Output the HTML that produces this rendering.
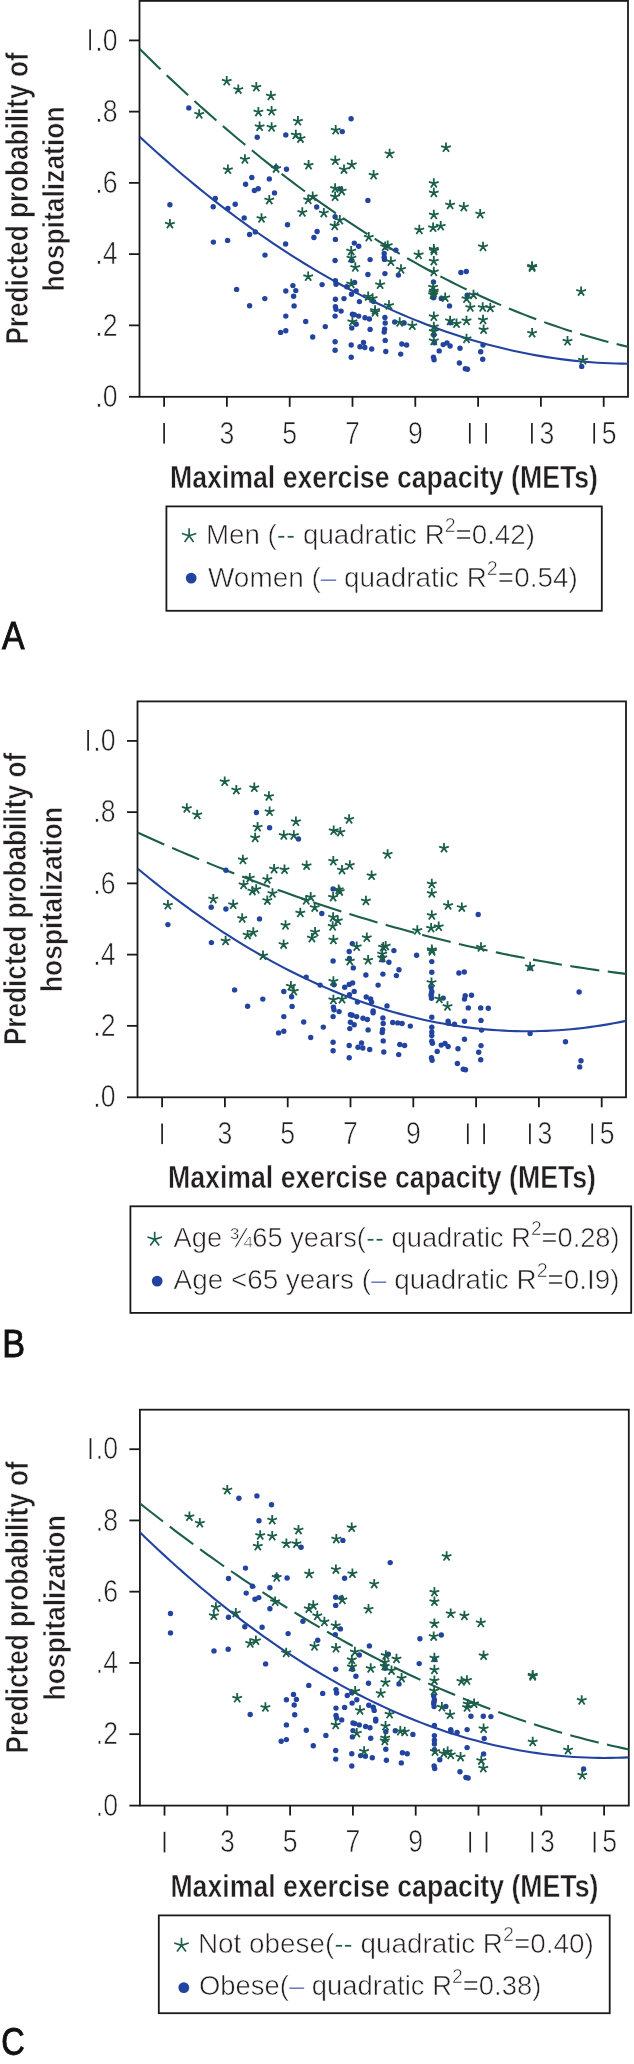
<!DOCTYPE html>
<html><head><meta charset="utf-8"><style>
html,body{margin:0;padding:0;background:#fff;overflow:hidden;}
svg{display:block;will-change:transform;font-family:"Liberation Sans",sans-serif;}
.lt{stroke:#fff;stroke-width:0.6px;paint-order:normal;}
.bt{stroke:#fff;stroke-width:0.45px;paint-order:normal;}
.yt{stroke:#fff;stroke-width:0.6px;paint-order:normal;}
.lb{stroke:#111;stroke-width:0.9px;}
</style></head><body>
<svg width="634" height="2064" viewBox="0 0 634 2064">
<defs>
<clipPath id="clipA"><rect x="139.50" y="0.90" width="488.50" height="396.00"/></clipPath>
<clipPath id="clipB"><rect x="137.50" y="701.40" width="488.50" height="396.00"/></clipPath>
<clipPath id="clipC"><rect x="139.90" y="1409.70" width="488.90" height="396.00"/></clipPath>
</defs>
<rect width="634" height="2064" fill="#fff"/>
<rect x="139.50" y="0.90" width="488.50" height="395.90" fill="none" stroke="#1a1a1a" stroke-width="1.80"/>
<line x1="129.00" y1="40.40" x2="139.50" y2="40.40" stroke="#1a1a1a" stroke-width="1.80"/>
<line x1="129.00" y1="111.64" x2="139.50" y2="111.64" stroke="#1a1a1a" stroke-width="1.80"/>
<line x1="129.00" y1="182.88" x2="139.50" y2="182.88" stroke="#1a1a1a" stroke-width="1.80"/>
<line x1="129.00" y1="254.12" x2="139.50" y2="254.12" stroke="#1a1a1a" stroke-width="1.80"/>
<line x1="129.00" y1="325.36" x2="139.50" y2="325.36" stroke="#1a1a1a" stroke-width="1.80"/>
<line x1="129.00" y1="396.80" x2="139.50" y2="396.80" stroke="#1a1a1a" stroke-width="1.80"/>
<line x1="164.10" y1="396.80" x2="164.10" y2="406.80" stroke="#1a1a1a" stroke-width="1.80"/>
<line x1="226.90" y1="396.80" x2="226.90" y2="406.80" stroke="#1a1a1a" stroke-width="1.80"/>
<line x1="289.70" y1="396.80" x2="289.70" y2="406.80" stroke="#1a1a1a" stroke-width="1.80"/>
<line x1="352.50" y1="396.80" x2="352.50" y2="406.80" stroke="#1a1a1a" stroke-width="1.80"/>
<line x1="415.30" y1="396.80" x2="415.30" y2="406.80" stroke="#1a1a1a" stroke-width="1.80"/>
<line x1="478.10" y1="396.80" x2="478.10" y2="406.80" stroke="#1a1a1a" stroke-width="1.80"/>
<line x1="540.90" y1="396.80" x2="540.90" y2="406.80" stroke="#1a1a1a" stroke-width="1.80"/>
<line x1="603.70" y1="396.80" x2="603.70" y2="406.80" stroke="#1a1a1a" stroke-width="1.80"/>
<g transform="translate(117.60 50.60) scale(0.860 1)"><text x="0.00" y="0.00" font-size="31.00" font-weight="normal" text-anchor="end" fill="#231f20" class="lt">.0</text></g>
<rect x="89.25" y="29.40" width="1.70" height="20.80" fill="#231f20"/>
<g transform="translate(117.60 121.84) scale(0.860 1)"><text x="0.00" y="0.00" font-size="31.00" font-weight="normal" text-anchor="end" fill="#231f20" class="lt">.8</text></g>
<g transform="translate(117.60 193.08) scale(0.860 1)"><text x="0.00" y="0.00" font-size="31.00" font-weight="normal" text-anchor="end" fill="#231f20" class="lt">.6</text></g>
<g transform="translate(117.60 264.32) scale(0.860 1)"><text x="0.00" y="0.00" font-size="31.00" font-weight="normal" text-anchor="end" fill="#231f20" class="lt">.4</text></g>
<g transform="translate(117.60 335.56) scale(0.860 1)"><text x="0.00" y="0.00" font-size="31.00" font-weight="normal" text-anchor="end" fill="#231f20" class="lt">.2</text></g>
<g transform="translate(117.60 406.80) scale(0.860 1)"><text x="0.00" y="0.00" font-size="31.00" font-weight="normal" text-anchor="end" fill="#231f20" class="lt">.0</text></g>
<rect x="163.25" y="423.00" width="1.70" height="20.60" fill="#231f20"/>
<g transform="translate(226.90 443.60) scale(0.860 1)"><text x="0.00" y="0.00" font-size="31.00" font-weight="normal" text-anchor="middle" fill="#231f20" class="lt">3</text></g>
<g transform="translate(289.70 443.60) scale(0.860 1)"><text x="0.00" y="0.00" font-size="31.00" font-weight="normal" text-anchor="middle" fill="#231f20" class="lt">5</text></g>
<g transform="translate(352.50 443.60) scale(0.860 1)"><text x="0.00" y="0.00" font-size="31.00" font-weight="normal" text-anchor="middle" fill="#231f20" class="lt">7</text></g>
<g transform="translate(415.30 443.60) scale(0.860 1)"><text x="0.00" y="0.00" font-size="31.00" font-weight="normal" text-anchor="middle" fill="#231f20" class="lt">9</text></g>
<rect x="468.95" y="423.00" width="1.70" height="20.60" fill="#231f20"/>
<rect x="485.25" y="423.00" width="1.70" height="20.60" fill="#231f20"/>
<rect x="531.05" y="423.00" width="1.70" height="20.60" fill="#231f20"/>
<g transform="translate(546.90 443.60) scale(0.860 1)"><text x="0.00" y="0.00" font-size="31.00" font-weight="normal" text-anchor="middle" fill="#231f20" class="lt">3</text></g>
<rect x="593.35" y="423.00" width="1.70" height="20.60" fill="#231f20"/>
<g transform="translate(609.20 443.60) scale(0.860 1)"><text x="0.00" y="0.00" font-size="31.00" font-weight="normal" text-anchor="middle" fill="#231f20" class="lt">5</text></g>
<text x="170.00" y="487.70" font-size="31.50" font-weight="bold" text-anchor="start" fill="#231f20" textLength="428.0" lengthAdjust="spacingAndGlyphs" class="bt">Maximal exercise capacity (METs)</text>
<g transform="translate(27.70 344.60) rotate(-90)">
<text x="0.00" y="0.00" font-size="30.50" font-weight="bold" text-anchor="start" fill="#231f20" textLength="292.2" lengthAdjust="spacingAndGlyphs" class="yt">Predicted probability of</text>
</g>
<g transform="translate(64.30 291.60) rotate(-90)">
<text x="0.00" y="0.00" font-size="29.50" font-weight="bold" text-anchor="start" fill="#231f20" textLength="185.2" lengthAdjust="spacingAndGlyphs" class="yt">hospitalization</text>
</g>
<g clip-path="url(#clipA)">
<polyline points="139.50,48.85 145.61,54.87 151.71,60.83 157.82,66.74 163.93,72.58 170.03,78.37 176.14,84.10 182.24,89.77 188.35,95.38 194.46,100.94 200.56,106.44 206.67,111.87 212.78,117.26 218.88,122.58 224.99,127.84 231.09,133.05 237.20,138.20 243.31,143.29 249.41,148.32 255.52,153.29 261.62,158.21 267.73,163.07 273.84,167.87 279.94,172.61 286.05,177.29 292.16,181.92 298.26,186.48 304.37,190.99 310.48,195.44 316.58,199.83 322.69,204.17 328.79,208.45 334.90,212.66 341.01,216.82 347.11,220.93 353.22,224.97 359.32,228.96 365.43,232.88 371.54,236.75 377.64,240.57 383.75,244.32 389.86,248.01 395.96,251.65 402.07,255.23 408.18,258.75 414.28,262.21 420.39,265.62 426.49,268.96 432.60,272.25 438.71,275.48 444.81,278.66 450.92,281.77 457.02,284.83 463.13,287.82 469.24,290.76 475.34,293.64 481.45,296.47 487.56,299.23 493.66,301.94 499.77,304.59 505.88,307.18 511.98,309.71 518.09,312.19 524.19,314.61 530.30,316.96 536.41,319.26 542.51,321.51 548.62,323.69 554.73,325.82 560.83,327.88 566.94,329.89 573.04,331.85 579.15,333.74 585.26,335.57 591.36,337.35 597.47,339.07 603.58,340.73 609.68,342.34 615.79,343.88 621.89,345.37 628.00,346.80" fill="none" stroke="#1b5e4a" stroke-width="2.10" stroke-dasharray="29.36 8.5"/>
<polyline points="139.50,136.64 145.61,142.25 151.71,147.79 157.82,153.26 163.93,158.66 170.03,163.99 176.14,169.25 182.24,174.44 188.35,179.56 194.46,184.61 200.56,189.59 206.67,194.50 212.78,199.33 218.88,204.10 224.99,208.80 231.09,213.43 237.20,217.99 243.31,222.47 249.41,226.89 255.52,231.24 261.62,235.51 267.73,239.72 273.84,243.86 279.94,247.92 286.05,251.92 292.16,255.85 298.26,259.70 304.37,263.49 310.48,267.20 316.58,270.85 322.69,274.42 328.79,277.93 334.90,281.36 341.01,284.73 347.11,288.02 353.22,291.25 359.32,294.40 365.43,297.49 371.54,300.50 377.64,303.44 383.75,306.32 389.86,309.12 395.96,311.85 402.07,314.52 408.18,317.11 414.28,319.63 420.39,322.09 426.49,324.47 432.60,326.78 438.71,329.02 444.81,331.19 450.92,333.30 457.02,335.33 463.13,337.29 469.24,339.18 475.34,341.00 481.45,342.75 487.56,344.43 493.66,346.04 499.77,347.58 505.88,349.06 511.98,350.46 518.09,351.79 524.19,353.05 530.30,354.23 536.41,355.35 542.51,356.40 548.62,357.38 554.73,358.29 560.83,359.13 566.94,359.90 573.04,360.60 579.15,361.23 585.26,361.78 591.36,362.27 597.47,362.69 603.58,363.04 609.68,363.31 615.79,363.52 621.89,363.66 628.00,363.73" fill="none" stroke="#2244a0" stroke-width="2.10"/>
</g>
<circle cx="188.80" cy="107.90" r="2.70" fill="#2244a0"/>
<circle cx="257.20" cy="137.30" r="2.70" fill="#2244a0"/>
<circle cx="285.80" cy="134.90" r="2.70" fill="#2244a0"/>
<circle cx="286.50" cy="169.20" r="2.70" fill="#2244a0"/>
<circle cx="251.80" cy="177.50" r="2.70" fill="#2244a0"/>
<circle cx="269.30" cy="178.90" r="2.70" fill="#2244a0"/>
<circle cx="245.60" cy="184.30" r="2.70" fill="#2244a0"/>
<circle cx="254.40" cy="190.50" r="2.70" fill="#2244a0"/>
<circle cx="258.20" cy="188.80" r="2.70" fill="#2244a0"/>
<circle cx="274.50" cy="192.90" r="2.70" fill="#2244a0"/>
<circle cx="169.90" cy="204.70" r="2.70" fill="#2244a0"/>
<circle cx="215.30" cy="198.50" r="2.70" fill="#2244a0"/>
<circle cx="213.20" cy="206.80" r="2.70" fill="#2244a0"/>
<circle cx="227.90" cy="208.50" r="2.70" fill="#2244a0"/>
<circle cx="235.20" cy="204.20" r="2.70" fill="#2244a0"/>
<circle cx="244.20" cy="217.90" r="2.70" fill="#2244a0"/>
<circle cx="287.50" cy="224.80" r="2.70" fill="#2244a0"/>
<circle cx="249.60" cy="234.50" r="2.70" fill="#2244a0"/>
<circle cx="255.30" cy="231.90" r="2.70" fill="#2244a0"/>
<circle cx="213.40" cy="242.10" r="2.70" fill="#2244a0"/>
<circle cx="227.60" cy="240.40" r="2.70" fill="#2244a0"/>
<circle cx="285.60" cy="244.00" r="2.70" fill="#2244a0"/>
<circle cx="265.00" cy="255.10" r="2.70" fill="#2244a0"/>
<circle cx="236.60" cy="289.40" r="2.70" fill="#2244a0"/>
<circle cx="249.60" cy="305.70" r="2.70" fill="#2244a0"/>
<circle cx="264.80" cy="298.60" r="2.70" fill="#2244a0"/>
<circle cx="285.80" cy="291.00" r="2.70" fill="#2244a0"/>
<circle cx="292.90" cy="285.60" r="2.70" fill="#2244a0"/>
<circle cx="295.80" cy="290.60" r="2.70" fill="#2244a0"/>
<circle cx="293.60" cy="296.20" r="2.70" fill="#2244a0"/>
<circle cx="294.10" cy="305.90" r="2.70" fill="#2244a0"/>
<circle cx="285.80" cy="316.10" r="2.70" fill="#2244a0"/>
<circle cx="285.80" cy="330.80" r="2.70" fill="#2244a0"/>
<circle cx="280.60" cy="332.40" r="2.70" fill="#2244a0"/>
<circle cx="342.30" cy="131.60" r="2.70" fill="#2244a0"/>
<circle cx="351.10" cy="118.80" r="2.70" fill="#2244a0"/>
<circle cx="340.70" cy="189.10" r="2.70" fill="#2244a0"/>
<circle cx="316.70" cy="207.00" r="2.70" fill="#2244a0"/>
<circle cx="335.10" cy="216.80" r="2.70" fill="#2244a0"/>
<circle cx="367.90" cy="200.40" r="2.70" fill="#2244a0"/>
<circle cx="317.10" cy="231.50" r="2.70" fill="#2244a0"/>
<circle cx="313.90" cy="237.50" r="2.70" fill="#2244a0"/>
<circle cx="335.40" cy="239.40" r="2.70" fill="#2244a0"/>
<circle cx="354.30" cy="243.10" r="2.70" fill="#2244a0"/>
<circle cx="358.70" cy="246.20" r="2.70" fill="#2244a0"/>
<circle cx="351.80" cy="260.50" r="2.70" fill="#2244a0"/>
<circle cx="335.10" cy="260.50" r="2.70" fill="#2244a0"/>
<circle cx="370.10" cy="259.60" r="2.70" fill="#2244a0"/>
<circle cx="395.90" cy="250.10" r="2.70" fill="#2244a0"/>
<circle cx="384.20" cy="253.50" r="2.70" fill="#2244a0"/>
<circle cx="384.20" cy="257.30" r="2.70" fill="#2244a0"/>
<circle cx="367.90" cy="274.50" r="2.70" fill="#2244a0"/>
<circle cx="322.10" cy="284.60" r="2.70" fill="#2244a0"/>
<circle cx="335.40" cy="280.80" r="2.70" fill="#2244a0"/>
<circle cx="336.00" cy="284.20" r="2.70" fill="#2244a0"/>
<circle cx="354.60" cy="282.40" r="2.70" fill="#2244a0"/>
<circle cx="346.70" cy="286.70" r="2.70" fill="#2244a0"/>
<circle cx="356.20" cy="290.90" r="2.70" fill="#2244a0"/>
<circle cx="351.50" cy="294.30" r="2.70" fill="#2244a0"/>
<circle cx="335.40" cy="299.30" r="2.70" fill="#2244a0"/>
<circle cx="344.00" cy="298.60" r="2.70" fill="#2244a0"/>
<circle cx="359.40" cy="301.60" r="2.70" fill="#2244a0"/>
<circle cx="335.40" cy="306.60" r="2.70" fill="#2244a0"/>
<circle cx="336.00" cy="309.20" r="2.70" fill="#2244a0"/>
<circle cx="341.10" cy="311.10" r="2.70" fill="#2244a0"/>
<circle cx="335.10" cy="316.10" r="2.70" fill="#2244a0"/>
<circle cx="352.40" cy="314.20" r="2.70" fill="#2244a0"/>
<circle cx="354.30" cy="314.80" r="2.70" fill="#2244a0"/>
<circle cx="358.70" cy="316.10" r="2.70" fill="#2244a0"/>
<circle cx="365.00" cy="317.70" r="2.70" fill="#2244a0"/>
<circle cx="369.40" cy="319.00" r="2.70" fill="#2244a0"/>
<circle cx="356.20" cy="324.30" r="2.70" fill="#2244a0"/>
<circle cx="351.80" cy="328.10" r="2.70" fill="#2244a0"/>
<circle cx="305.70" cy="321.50" r="2.70" fill="#2244a0"/>
<circle cx="325.30" cy="326.60" r="2.70" fill="#2244a0"/>
<circle cx="370.10" cy="329.40" r="2.70" fill="#2244a0"/>
<circle cx="384.90" cy="273.60" r="2.70" fill="#2244a0"/>
<circle cx="398.40" cy="275.10" r="2.70" fill="#2244a0"/>
<circle cx="433.50" cy="282.00" r="2.70" fill="#2244a0"/>
<circle cx="433.50" cy="297.80" r="2.70" fill="#2244a0"/>
<circle cx="441.30" cy="298.40" r="2.70" fill="#2244a0"/>
<circle cx="373.60" cy="301.60" r="2.70" fill="#2244a0"/>
<circle cx="384.90" cy="317.40" r="2.70" fill="#2244a0"/>
<circle cx="385.20" cy="323.00" r="2.70" fill="#2244a0"/>
<circle cx="394.70" cy="322.00" r="2.70" fill="#2244a0"/>
<circle cx="404.10" cy="323.00" r="2.70" fill="#2244a0"/>
<circle cx="312.70" cy="337.00" r="2.70" fill="#2244a0"/>
<circle cx="335.10" cy="341.70" r="2.70" fill="#2244a0"/>
<circle cx="335.10" cy="350.30" r="2.70" fill="#2244a0"/>
<circle cx="351.20" cy="345.00" r="2.70" fill="#2244a0"/>
<circle cx="351.20" cy="357.20" r="2.70" fill="#2244a0"/>
<circle cx="363.50" cy="342.50" r="2.70" fill="#2244a0"/>
<circle cx="360.00" cy="346.80" r="2.70" fill="#2244a0"/>
<circle cx="364.80" cy="347.50" r="2.70" fill="#2244a0"/>
<circle cx="371.70" cy="349.00" r="2.70" fill="#2244a0"/>
<circle cx="384.60" cy="329.10" r="2.70" fill="#2244a0"/>
<circle cx="384.20" cy="332.00" r="2.70" fill="#2244a0"/>
<circle cx="385.20" cy="340.40" r="2.70" fill="#2244a0"/>
<circle cx="385.80" cy="351.50" r="2.70" fill="#2244a0"/>
<circle cx="401.80" cy="344.00" r="2.70" fill="#2244a0"/>
<circle cx="406.60" cy="345.00" r="2.70" fill="#2244a0"/>
<circle cx="400.70" cy="354.10" r="2.70" fill="#2244a0"/>
<circle cx="433.80" cy="335.10" r="2.70" fill="#2244a0"/>
<circle cx="434.40" cy="342.70" r="2.70" fill="#2244a0"/>
<circle cx="443.20" cy="344.60" r="2.70" fill="#2244a0"/>
<circle cx="439.20" cy="350.90" r="2.70" fill="#2244a0"/>
<circle cx="433.50" cy="357.20" r="2.70" fill="#2244a0"/>
<circle cx="434.10" cy="359.70" r="2.70" fill="#2244a0"/>
<circle cx="460.90" cy="272.50" r="2.70" fill="#2244a0"/>
<circle cx="466.30" cy="271.50" r="2.70" fill="#2244a0"/>
<circle cx="449.50" cy="305.90" r="2.70" fill="#2244a0"/>
<circle cx="467.20" cy="295.20" r="2.70" fill="#2244a0"/>
<circle cx="450.40" cy="322.70" r="2.70" fill="#2244a0"/>
<circle cx="447.00" cy="342.90" r="2.70" fill="#2244a0"/>
<circle cx="450.10" cy="346.00" r="2.70" fill="#2244a0"/>
<circle cx="460.00" cy="348.20" r="2.70" fill="#2244a0"/>
<circle cx="483.00" cy="345.10" r="2.70" fill="#2244a0"/>
<circle cx="480.70" cy="351.70" r="2.70" fill="#2244a0"/>
<circle cx="482.70" cy="359.30" r="2.70" fill="#2244a0"/>
<circle cx="459.40" cy="363.00" r="2.70" fill="#2244a0"/>
<circle cx="465.30" cy="368.70" r="2.70" fill="#2244a0"/>
<circle cx="467.50" cy="369.20" r="2.70" fill="#2244a0"/>
<circle cx="581.70" cy="366.40" r="2.70" fill="#2244a0"/>
<circle cx="384.50" cy="259.40" r="2.70" fill="#2244a0"/>
<circle cx="276.10" cy="167.30" r="2.70" fill="#2244a0"/>
<path d="M199.20 114.30L199.20 109.20M199.20 114.30L194.35 112.72M199.20 114.30L196.20 118.43M199.20 114.30L202.20 118.43M199.20 114.30L204.05 112.72" stroke="#1b5e4a" stroke-width="1.80" fill="none"/>
<path d="M226.70 81.20L226.70 76.10M226.70 81.20L221.85 79.62M226.70 81.20L223.70 85.33M226.70 81.20L229.70 85.33M226.70 81.20L231.55 79.62" stroke="#1b5e4a" stroke-width="1.80" fill="none"/>
<path d="M238.30 89.50L238.30 84.40M238.30 89.50L233.45 87.92M238.30 89.50L235.30 93.63M238.30 89.50L241.30 93.63M238.30 89.50L243.15 87.92" stroke="#1b5e4a" stroke-width="1.80" fill="none"/>
<path d="M256.30 87.10L256.30 82.00M256.30 87.10L251.45 85.52M256.30 87.10L253.30 91.23M256.30 87.10L259.30 91.23M256.30 87.10L261.15 85.52" stroke="#1b5e4a" stroke-width="1.80" fill="none"/>
<path d="M270.90 95.90L270.90 90.80M270.90 95.90L266.05 94.32M270.90 95.90L267.90 100.03M270.90 95.90L273.90 100.03M270.90 95.90L275.75 94.32" stroke="#1b5e4a" stroke-width="1.80" fill="none"/>
<path d="M258.40 112.00L258.40 106.90M258.40 112.00L253.55 110.42M258.40 112.00L255.40 116.13M258.40 112.00L261.40 116.13M258.40 112.00L263.25 110.42" stroke="#1b5e4a" stroke-width="1.80" fill="none"/>
<path d="M271.60 111.20L271.60 106.10M271.60 111.20L266.75 109.62M271.60 111.20L268.60 115.33M271.60 111.20L274.60 115.33M271.60 111.20L276.45 109.62" stroke="#1b5e4a" stroke-width="1.80" fill="none"/>
<path d="M259.60 126.60L259.60 121.50M259.60 126.60L254.75 125.02M259.60 126.60L256.60 130.73M259.60 126.60L262.60 130.73M259.60 126.60L264.45 125.02" stroke="#1b5e4a" stroke-width="1.80" fill="none"/>
<path d="M271.60 127.30L271.60 122.20M271.60 127.30L266.75 125.72M271.60 127.30L268.60 131.43M271.60 127.30L274.60 131.43M271.60 127.30L276.45 125.72" stroke="#1b5e4a" stroke-width="1.80" fill="none"/>
<path d="M297.90 121.20L297.90 116.10M297.90 121.20L293.05 119.62M297.90 121.20L294.90 125.33M297.90 121.20L300.90 125.33M297.90 121.20L302.75 119.62" stroke="#1b5e4a" stroke-width="1.80" fill="none"/>
<path d="M295.80 134.90L295.80 129.80M295.80 134.90L290.95 133.32M295.80 134.90L292.80 139.03M295.80 134.90L298.80 139.03M295.80 134.90L300.65 133.32" stroke="#1b5e4a" stroke-width="1.80" fill="none"/>
<path d="M300.50 138.50L300.50 133.40M300.50 138.50L295.65 136.92M300.50 138.50L297.50 142.63M300.50 138.50L303.50 142.63M300.50 138.50L305.35 136.92" stroke="#1b5e4a" stroke-width="1.80" fill="none"/>
<path d="M244.90 159.30L244.90 154.20M244.90 159.30L240.05 157.72M244.90 159.30L241.90 163.43M244.90 159.30L247.90 163.43M244.90 159.30L249.75 157.72" stroke="#1b5e4a" stroke-width="1.80" fill="none"/>
<path d="M227.90 169.70L227.90 164.60M227.90 169.70L223.05 168.12M227.90 169.70L224.90 173.83M227.90 169.70L230.90 173.83M227.90 169.70L232.75 168.12" stroke="#1b5e4a" stroke-width="1.80" fill="none"/>
<path d="M276.10 168.50L276.10 163.40M276.10 168.50L271.25 166.92M276.10 168.50L273.10 172.63M276.10 168.50L279.10 172.63M276.10 168.50L280.95 166.92" stroke="#1b5e4a" stroke-width="1.80" fill="none"/>
<path d="M269.30 200.00L269.30 194.90M269.30 200.00L264.45 198.42M269.30 200.00L266.30 204.13M269.30 200.00L272.30 204.13M269.30 200.00L274.15 198.42" stroke="#1b5e4a" stroke-width="1.80" fill="none"/>
<path d="M169.90 224.10L169.90 219.00M169.90 224.10L165.05 222.52M169.90 224.10L166.90 228.23M169.90 224.10L172.90 228.23M169.90 224.10L174.75 222.52" stroke="#1b5e4a" stroke-width="1.80" fill="none"/>
<path d="M261.50 218.40L261.50 213.30M261.50 218.40L256.65 216.82M261.50 218.40L258.50 222.53M261.50 218.40L264.50 222.53M261.50 218.40L266.35 216.82" stroke="#1b5e4a" stroke-width="1.80" fill="none"/>
<path d="M335.70 130.20L335.70 125.10M335.70 130.20L330.85 128.62M335.70 130.20L332.70 134.33M335.70 130.20L338.70 134.33M335.70 130.20L340.55 128.62" stroke="#1b5e4a" stroke-width="1.80" fill="none"/>
<path d="M389.60 153.80L389.60 148.70M389.60 153.80L384.75 152.22M389.60 153.80L386.60 157.93M389.60 153.80L392.60 157.93M389.60 153.80L394.45 152.22" stroke="#1b5e4a" stroke-width="1.80" fill="none"/>
<path d="M308.60 165.10L308.60 160.00M308.60 165.10L303.75 163.52M308.60 165.10L305.60 169.23M308.60 165.10L311.60 169.23M308.60 165.10L313.45 163.52" stroke="#1b5e4a" stroke-width="1.80" fill="none"/>
<path d="M335.30 160.70L335.30 155.60M335.30 160.70L330.45 159.12M335.30 160.70L332.30 164.83M335.30 160.70L338.30 164.83M335.30 160.70L340.15 159.12" stroke="#1b5e4a" stroke-width="1.80" fill="none"/>
<path d="M351.80 164.80L351.80 159.70M351.80 164.80L346.95 163.22M351.80 164.80L348.80 168.93M351.80 164.80L354.80 168.93M351.80 164.80L356.65 163.22" stroke="#1b5e4a" stroke-width="1.80" fill="none"/>
<path d="M344.00 169.50L344.00 164.40M344.00 169.50L339.15 167.92M344.00 169.50L341.00 173.63M344.00 169.50L347.00 173.63M344.00 169.50L348.85 167.92" stroke="#1b5e4a" stroke-width="1.80" fill="none"/>
<path d="M373.60 175.20L373.60 170.10M373.60 175.20L368.75 173.62M373.60 175.20L370.60 179.33M373.60 175.20L376.60 179.33M373.60 175.20L378.45 173.62" stroke="#1b5e4a" stroke-width="1.80" fill="none"/>
<path d="M335.10 188.40L335.10 183.30M335.10 188.40L330.25 186.82M335.10 188.40L332.10 192.53M335.10 188.40L338.10 192.53M335.10 188.40L339.95 186.82" stroke="#1b5e4a" stroke-width="1.80" fill="none"/>
<path d="M335.10 196.60L335.10 191.50M335.10 196.60L330.25 195.02M335.10 196.60L332.10 200.73M335.10 196.60L338.10 200.73M335.10 196.60L339.95 195.02" stroke="#1b5e4a" stroke-width="1.80" fill="none"/>
<path d="M341.70 191.00L341.70 185.90M341.70 191.00L336.85 189.42M341.70 191.00L338.70 195.13M341.70 191.00L344.70 195.13M341.70 191.00L346.55 189.42" stroke="#1b5e4a" stroke-width="1.80" fill="none"/>
<path d="M312.70 196.60L312.70 191.50M312.70 196.60L307.85 195.02M312.70 196.60L309.70 200.73M312.70 196.60L315.70 200.73M312.70 196.60L317.55 195.02" stroke="#1b5e4a" stroke-width="1.80" fill="none"/>
<path d="M308.20 199.80L308.20 194.70M308.20 199.80L303.35 198.22M308.20 199.80L305.20 203.93M308.20 199.80L311.20 203.93M308.20 199.80L313.05 198.22" stroke="#1b5e4a" stroke-width="1.80" fill="none"/>
<path d="M302.30 212.40L302.30 207.30M302.30 212.40L297.45 210.82M302.30 212.40L299.30 216.53M302.30 212.40L305.30 216.53M302.30 212.40L307.15 210.82" stroke="#1b5e4a" stroke-width="1.80" fill="none"/>
<path d="M323.80 213.00L323.80 207.90M323.80 213.00L318.95 211.42M323.80 213.00L320.80 217.13M323.80 213.00L326.80 217.13M323.80 213.00L328.65 211.42" stroke="#1b5e4a" stroke-width="1.80" fill="none"/>
<path d="M339.80 220.10L339.80 215.00M339.80 220.10L334.95 218.52M339.80 220.10L336.80 224.23M339.80 220.10L342.80 224.23M339.80 220.10L344.65 218.52" stroke="#1b5e4a" stroke-width="1.80" fill="none"/>
<path d="M334.70 225.80L334.70 220.70M334.70 225.80L329.85 224.22M334.70 225.80L331.70 229.93M334.70 225.80L337.70 229.93M334.70 225.80L339.55 224.22" stroke="#1b5e4a" stroke-width="1.80" fill="none"/>
<path d="M368.80 237.10L368.80 232.00M368.80 237.10L363.95 235.52M368.80 237.10L365.80 241.23M368.80 237.10L371.80 241.23M368.80 237.10L373.65 235.52" stroke="#1b5e4a" stroke-width="1.80" fill="none"/>
<path d="M351.20 251.00L351.20 245.90M351.20 251.00L346.35 249.42M351.20 251.00L348.20 255.13M351.20 251.00L354.20 255.13M351.20 251.00L356.05 249.42" stroke="#1b5e4a" stroke-width="1.80" fill="none"/>
<path d="M351.40 258.00L351.40 252.90M351.40 258.00L346.55 256.42M351.40 258.00L348.40 262.13M351.40 258.00L354.40 262.13M351.40 258.00L356.25 256.42" stroke="#1b5e4a" stroke-width="1.80" fill="none"/>
<path d="M355.30 267.40L355.30 262.30M355.30 267.40L350.45 265.82M355.30 267.40L352.30 271.53M355.30 267.40L358.30 271.53M355.30 267.40L360.15 265.82" stroke="#1b5e4a" stroke-width="1.80" fill="none"/>
<path d="M433.80 183.40L433.80 178.30M433.80 183.40L428.95 181.82M433.80 183.40L430.80 187.53M433.80 183.40L436.80 187.53M433.80 183.40L438.65 181.82" stroke="#1b5e4a" stroke-width="1.80" fill="none"/>
<path d="M433.80 192.90L433.80 187.80M433.80 192.90L428.95 191.32M433.80 192.90L430.80 197.03M433.80 192.90L436.80 197.03M433.80 192.90L438.65 191.32" stroke="#1b5e4a" stroke-width="1.80" fill="none"/>
<path d="M433.80 214.90L433.80 209.80M433.80 214.90L428.95 213.32M433.80 214.90L430.80 219.03M433.80 214.90L436.80 219.03M433.80 214.90L438.65 213.32" stroke="#1b5e4a" stroke-width="1.80" fill="none"/>
<path d="M433.10 227.70L433.10 222.60M433.10 227.70L428.25 226.12M433.10 227.70L430.10 231.83M433.10 227.70L436.10 231.83M433.10 227.70L437.95 226.12" stroke="#1b5e4a" stroke-width="1.80" fill="none"/>
<path d="M440.70 226.20L440.70 221.10M440.70 226.20L435.85 224.62M440.70 226.20L437.70 230.33M440.70 226.20L443.70 230.33M440.70 226.20L445.55 224.62" stroke="#1b5e4a" stroke-width="1.80" fill="none"/>
<path d="M419.30 229.90L419.30 224.80M419.30 229.90L414.45 228.32M419.30 229.90L416.30 234.03M419.30 229.90L422.30 234.03M419.30 229.90L424.15 228.32" stroke="#1b5e4a" stroke-width="1.80" fill="none"/>
<path d="M385.20 246.60L385.20 241.50M385.20 246.60L380.35 245.02M385.20 246.60L382.20 250.73M385.20 246.60L388.20 250.73M385.20 246.60L390.05 245.02" stroke="#1b5e4a" stroke-width="1.80" fill="none"/>
<path d="M387.70 245.50L387.70 240.40M387.70 245.50L382.85 243.92M387.70 245.50L384.70 249.63M387.70 245.50L390.70 249.63M387.70 245.50L392.55 243.92" stroke="#1b5e4a" stroke-width="1.80" fill="none"/>
<path d="M390.90 261.70L390.90 256.60M390.90 261.70L386.05 260.12M390.90 261.70L387.90 265.83M390.90 261.70L393.90 265.83M390.90 261.70L395.75 260.12" stroke="#1b5e4a" stroke-width="1.80" fill="none"/>
<path d="M401.00 269.30L401.00 264.20M401.00 269.30L396.15 267.72M401.00 269.30L398.00 273.43M401.00 269.30L404.00 273.43M401.00 269.30L405.85 267.72" stroke="#1b5e4a" stroke-width="1.80" fill="none"/>
<path d="M418.60 254.80L418.60 249.70M418.60 254.80L413.75 253.22M418.60 254.80L415.60 258.93M418.60 254.80L421.60 258.93M418.60 254.80L423.45 253.22" stroke="#1b5e4a" stroke-width="1.80" fill="none"/>
<path d="M433.80 249.10L433.80 244.00M433.80 249.10L428.95 247.52M433.80 249.10L430.80 253.23M433.80 249.10L436.80 253.23M433.80 249.10L438.65 247.52" stroke="#1b5e4a" stroke-width="1.80" fill="none"/>
<path d="M433.80 261.10L433.80 256.00M433.80 261.10L428.95 259.52M433.80 261.10L430.80 265.23M433.80 261.10L436.80 265.23M433.80 261.10L438.65 259.52" stroke="#1b5e4a" stroke-width="1.80" fill="none"/>
<path d="M433.80 271.80L433.80 266.70M433.80 271.80L428.95 270.22M433.80 271.80L430.80 275.93M433.80 271.80L436.80 275.93M433.80 271.80L438.65 270.22" stroke="#1b5e4a" stroke-width="1.80" fill="none"/>
<path d="M308.20 276.60L308.20 271.50M308.20 276.60L303.35 275.02M308.20 276.60L305.20 280.73M308.20 276.60L311.20 280.73M308.20 276.60L313.05 275.02" stroke="#1b5e4a" stroke-width="1.80" fill="none"/>
<path d="M351.20 283.90L351.20 278.80M351.20 283.90L346.35 282.32M351.20 283.90L348.20 288.03M351.20 283.90L354.20 288.03M351.20 283.90L356.05 282.32" stroke="#1b5e4a" stroke-width="1.80" fill="none"/>
<path d="M352.40 321.80L352.40 316.70M352.40 321.80L347.55 320.22M352.40 321.80L349.40 325.93M352.40 321.80L355.40 325.93M352.40 321.80L357.25 320.22" stroke="#1b5e4a" stroke-width="1.80" fill="none"/>
<path d="M433.10 287.10L433.10 282.00M433.10 287.10L428.25 285.52M433.10 287.10L430.10 291.23M433.10 287.10L436.10 291.23M433.10 287.10L437.95 285.52" stroke="#1b5e4a" stroke-width="1.80" fill="none"/>
<path d="M433.80 290.90L433.80 285.80M433.80 290.90L428.95 289.32M433.80 290.90L430.80 295.03M433.80 290.90L436.80 295.03M433.80 290.90L438.65 289.32" stroke="#1b5e4a" stroke-width="1.80" fill="none"/>
<path d="M433.10 294.70L433.10 289.60M433.10 294.70L428.25 293.12M433.10 294.70L430.10 298.83M433.10 294.70L436.10 298.83M433.10 294.70L437.95 293.12" stroke="#1b5e4a" stroke-width="1.80" fill="none"/>
<path d="M445.20 297.60L445.20 292.50M445.20 297.60L440.35 296.02M445.20 297.60L442.20 301.73M445.20 297.60L448.20 301.73M445.20 297.60L450.05 296.02" stroke="#1b5e4a" stroke-width="1.80" fill="none"/>
<path d="M380.10 284.60L380.10 279.50M380.10 284.60L375.25 283.02M380.10 284.60L377.10 288.73M380.10 284.60L383.10 288.73M380.10 284.60L384.95 283.02" stroke="#1b5e4a" stroke-width="1.80" fill="none"/>
<path d="M368.20 296.50L368.20 291.40M368.20 296.50L363.35 294.92M368.20 296.50L365.20 300.63M368.20 296.50L371.20 300.63M368.20 296.50L373.05 294.92" stroke="#1b5e4a" stroke-width="1.80" fill="none"/>
<path d="M372.60 298.40L372.60 293.30M372.60 298.40L367.75 296.82M372.60 298.40L369.60 302.53M372.60 298.40L375.60 302.53M372.60 298.40L377.45 296.82" stroke="#1b5e4a" stroke-width="1.80" fill="none"/>
<path d="M389.00 305.40L389.00 300.30M389.00 305.40L384.15 303.82M389.00 305.40L386.00 309.53M389.00 305.40L392.00 309.53M389.00 305.40L393.85 303.82" stroke="#1b5e4a" stroke-width="1.80" fill="none"/>
<path d="M375.10 310.40L375.10 305.30M375.10 310.40L370.25 308.82M375.10 310.40L372.10 314.53M375.10 310.40L378.10 314.53M375.10 310.40L379.95 308.82" stroke="#1b5e4a" stroke-width="1.80" fill="none"/>
<path d="M375.10 312.30L375.10 307.20M375.10 312.30L370.25 310.72M375.10 312.30L372.10 316.43M375.10 312.30L378.10 316.43M375.10 312.30L379.95 310.72" stroke="#1b5e4a" stroke-width="1.80" fill="none"/>
<path d="M399.70 322.40L399.70 317.30M399.70 322.40L394.85 320.82M399.70 322.40L396.70 326.53M399.70 322.40L402.70 326.53M399.70 322.40L404.55 320.82" stroke="#1b5e4a" stroke-width="1.80" fill="none"/>
<path d="M412.30 325.60L412.30 320.50M412.30 325.60L407.45 324.02M412.30 325.60L409.30 329.73M412.30 325.60L415.30 329.73M412.30 325.60L417.15 324.02" stroke="#1b5e4a" stroke-width="1.80" fill="none"/>
<path d="M433.80 316.70L433.80 311.60M433.80 316.70L428.95 315.12M433.80 316.70L430.80 320.83M433.80 316.70L436.80 320.83M433.80 316.70L438.65 315.12" stroke="#1b5e4a" stroke-width="1.80" fill="none"/>
<path d="M433.80 326.80L433.80 321.70M433.80 326.80L428.95 325.22M433.80 326.80L430.80 330.93M433.80 326.80L436.80 330.93M433.80 326.80L438.65 325.22" stroke="#1b5e4a" stroke-width="1.80" fill="none"/>
<path d="M433.80 331.40L433.80 326.30M433.80 331.40L428.95 329.82M433.80 331.40L430.80 335.53M433.80 331.40L436.80 335.53M433.80 331.40L438.65 329.82" stroke="#1b5e4a" stroke-width="1.80" fill="none"/>
<path d="M433.80 340.80L433.80 335.70M433.80 340.80L428.95 339.22M433.80 340.80L430.80 344.93M433.80 340.80L436.80 344.93M433.80 340.80L438.65 339.22" stroke="#1b5e4a" stroke-width="1.80" fill="none"/>
<path d="M446.00 147.60L446.00 142.50M446.00 147.60L441.15 146.02M446.00 147.60L443.00 151.73M446.00 147.60L449.00 151.73M446.00 147.60L450.85 146.02" stroke="#1b5e4a" stroke-width="1.80" fill="none"/>
<path d="M450.10 204.90L450.10 199.80M450.10 204.90L445.25 203.32M450.10 204.90L447.10 209.03M450.10 204.90L453.10 209.03M450.10 204.90L454.95 203.32" stroke="#1b5e4a" stroke-width="1.80" fill="none"/>
<path d="M463.80 207.00L463.80 201.90M463.80 207.00L458.95 205.42M463.80 207.00L460.80 211.13M463.80 207.00L466.80 211.13M463.80 207.00L468.65 205.42" stroke="#1b5e4a" stroke-width="1.80" fill="none"/>
<path d="M480.20 214.00L480.20 208.90M480.20 214.00L475.35 212.42M480.20 214.00L477.20 218.13M480.20 214.00L483.20 218.13M480.20 214.00L485.05 212.42" stroke="#1b5e4a" stroke-width="1.80" fill="none"/>
<path d="M483.00 246.80L483.00 241.70M483.00 246.80L478.15 245.22M483.00 246.80L480.00 250.93M483.00 246.80L486.00 250.93M483.00 246.80L487.85 245.22" stroke="#1b5e4a" stroke-width="1.80" fill="none"/>
<path d="M466.50 298.60L466.50 293.50M466.50 298.60L461.65 297.02M466.50 298.60L463.50 302.73M466.50 298.60L469.50 302.73M466.50 298.60L471.35 297.02" stroke="#1b5e4a" stroke-width="1.80" fill="none"/>
<path d="M473.50 294.80L473.50 289.70M473.50 294.80L468.65 293.22M473.50 294.80L470.50 298.93M473.50 294.80L476.50 298.93M473.50 294.80L478.35 293.22" stroke="#1b5e4a" stroke-width="1.80" fill="none"/>
<path d="M470.30 307.40L470.30 302.30M470.30 307.40L465.45 305.82M470.30 307.40L467.30 311.53M470.30 307.40L473.30 311.53M470.30 307.40L475.15 305.82" stroke="#1b5e4a" stroke-width="1.80" fill="none"/>
<path d="M482.70 307.40L482.70 302.30M482.70 307.40L477.85 305.82M482.70 307.40L479.70 311.53M482.70 307.40L485.70 311.53M482.70 307.40L487.55 305.82" stroke="#1b5e4a" stroke-width="1.80" fill="none"/>
<path d="M490.30 307.80L490.30 302.70M490.30 307.80L485.45 306.22M490.30 307.80L487.30 311.93M490.30 307.80L493.30 311.93M490.30 307.80L495.15 306.22" stroke="#1b5e4a" stroke-width="1.80" fill="none"/>
<path d="M450.10 320.80L450.10 315.70M450.10 320.80L445.25 319.22M450.10 320.80L447.10 324.93M450.10 320.80L453.10 324.93M450.10 320.80L454.95 319.22" stroke="#1b5e4a" stroke-width="1.80" fill="none"/>
<path d="M456.50 323.70L456.50 318.60M456.50 323.70L451.65 322.12M456.50 323.70L453.50 327.83M456.50 323.70L459.50 327.83M456.50 323.70L461.35 322.12" stroke="#1b5e4a" stroke-width="1.80" fill="none"/>
<path d="M466.50 320.80L466.50 315.70M466.50 320.80L461.65 319.22M466.50 320.80L463.50 324.93M466.50 320.80L469.50 324.93M466.50 320.80L471.35 319.22" stroke="#1b5e4a" stroke-width="1.80" fill="none"/>
<path d="M483.00 319.90L483.00 314.80M483.00 319.90L478.15 318.32M483.00 319.90L480.00 324.03M483.00 319.90L486.00 324.03M483.00 319.90L487.85 318.32" stroke="#1b5e4a" stroke-width="1.80" fill="none"/>
<path d="M483.60 329.60L483.60 324.50M483.60 329.60L478.75 328.02M483.60 329.60L480.60 333.73M483.60 329.60L486.60 333.73M483.60 329.60L488.45 328.02" stroke="#1b5e4a" stroke-width="1.80" fill="none"/>
<path d="M466.50 338.80L466.50 333.70M466.50 338.80L461.65 337.22M466.50 338.80L463.50 342.93M466.50 338.80L469.50 342.93M466.50 338.80L471.35 337.22" stroke="#1b5e4a" stroke-width="1.80" fill="none"/>
<path d="M532.10 266.30L532.10 261.20M532.10 266.30L527.25 264.72M532.10 266.30L529.10 270.43M532.10 266.30L535.10 270.43M532.10 266.30L536.95 264.72" stroke="#1b5e4a" stroke-width="1.80" fill="none"/>
<path d="M532.10 267.50L532.10 262.40M532.10 267.50L527.25 265.92M532.10 267.50L529.10 271.63M532.10 267.50L535.10 271.63M532.10 267.50L536.95 265.92" stroke="#1b5e4a" stroke-width="1.80" fill="none"/>
<path d="M581.10 291.50L581.10 286.40M581.10 291.50L576.25 289.92M581.10 291.50L578.10 295.63M581.10 291.50L584.10 295.63M581.10 291.50L585.95 289.92" stroke="#1b5e4a" stroke-width="1.80" fill="none"/>
<path d="M532.10 333.10L532.10 328.00M532.10 333.10L527.25 331.52M532.10 333.10L529.10 337.23M532.10 333.10L535.10 337.23M532.10 333.10L536.95 331.52" stroke="#1b5e4a" stroke-width="1.80" fill="none"/>
<path d="M567.50 341.20L567.50 336.10M567.50 341.20L562.65 339.62M567.50 341.20L564.50 345.33M567.50 341.20L570.50 345.33M567.50 341.20L572.35 339.62" stroke="#1b5e4a" stroke-width="1.80" fill="none"/>
<path d="M583.00 360.20L583.00 355.10M583.00 360.20L578.15 358.62M583.00 360.20L580.00 364.33M583.00 360.20L586.00 364.33M583.00 360.20L587.85 358.62" stroke="#1b5e4a" stroke-width="1.80" fill="none"/>
<path d="M434.00 250.80L434.00 245.70M434.00 250.80L429.15 249.22M434.00 250.80L431.00 254.93M434.00 250.80L437.00 254.93M434.00 250.80L438.85 249.22" stroke="#1b5e4a" stroke-width="1.80" fill="none"/>
<path d="M433.50 292.80L433.50 287.70M433.50 292.80L428.65 291.22M433.50 292.80L430.50 296.93M433.50 292.80L436.50 296.93M433.50 292.80L438.35 291.22" stroke="#1b5e4a" stroke-width="1.80" fill="none"/>
<rect x="166.40" y="506.40" width="435.40" height="104.40" fill="none" stroke="#1a1a1a" stroke-width="1.80"/>
<path d="M189.10 535.80L189.10 528.20M189.10 535.80L181.87 533.45M189.10 535.80L184.63 541.95M189.10 535.80L193.57 541.95M189.10 535.80L196.33 533.45" stroke="#1b5e4a" stroke-width="1.65" fill="none"/>
<circle cx="191.20" cy="578.10" r="5.40" fill="#2244a0"/>
<text x="206.00" y="543.80" font-size="28.3" fill="#231f20" class="lt" textLength="328.9" lengthAdjust="spacingAndGlyphs">Men (<tspan fill="#1b5e4a">--</tspan> quadratic R<tspan dy="-12" font-size="20">2</tspan><tspan dy="12">=0.42)</tspan></text>
<text x="208.00" y="587.30" font-size="28.3" fill="#231f20" class="lt" textLength="369.8" lengthAdjust="spacingAndGlyphs">Women (<tspan fill="#2244a0">–</tspan> quadratic R<tspan dy="-12" font-size="20">2</tspan><tspan dy="12">=0.54)</tspan></text>
<g transform="translate(2.00 649.20) scale(0.890 1)"><text x="0.00" y="0.00" font-size="38.00" font-weight="normal" text-anchor="start" fill="#111" class="lb">A</text></g>
<rect x="137.50" y="701.40" width="488.50" height="395.90" fill="none" stroke="#1a1a1a" stroke-width="1.80"/>
<line x1="127.00" y1="740.90" x2="137.50" y2="740.90" stroke="#1a1a1a" stroke-width="1.80"/>
<line x1="127.00" y1="812.14" x2="137.50" y2="812.14" stroke="#1a1a1a" stroke-width="1.80"/>
<line x1="127.00" y1="883.38" x2="137.50" y2="883.38" stroke="#1a1a1a" stroke-width="1.80"/>
<line x1="127.00" y1="954.62" x2="137.50" y2="954.62" stroke="#1a1a1a" stroke-width="1.80"/>
<line x1="127.00" y1="1025.86" x2="137.50" y2="1025.86" stroke="#1a1a1a" stroke-width="1.80"/>
<line x1="127.00" y1="1097.30" x2="137.50" y2="1097.30" stroke="#1a1a1a" stroke-width="1.80"/>
<line x1="162.10" y1="1097.30" x2="162.10" y2="1107.30" stroke="#1a1a1a" stroke-width="1.80"/>
<line x1="224.90" y1="1097.30" x2="224.90" y2="1107.30" stroke="#1a1a1a" stroke-width="1.80"/>
<line x1="287.70" y1="1097.30" x2="287.70" y2="1107.30" stroke="#1a1a1a" stroke-width="1.80"/>
<line x1="350.50" y1="1097.30" x2="350.50" y2="1107.30" stroke="#1a1a1a" stroke-width="1.80"/>
<line x1="413.30" y1="1097.30" x2="413.30" y2="1107.30" stroke="#1a1a1a" stroke-width="1.80"/>
<line x1="476.10" y1="1097.30" x2="476.10" y2="1107.30" stroke="#1a1a1a" stroke-width="1.80"/>
<line x1="538.90" y1="1097.30" x2="538.90" y2="1107.30" stroke="#1a1a1a" stroke-width="1.80"/>
<line x1="601.70" y1="1097.30" x2="601.70" y2="1107.30" stroke="#1a1a1a" stroke-width="1.80"/>
<g transform="translate(115.60 751.10) scale(0.860 1)"><text x="0.00" y="0.00" font-size="31.00" font-weight="normal" text-anchor="end" fill="#231f20" class="lt">.0</text></g>
<rect x="87.25" y="729.90" width="1.70" height="20.80" fill="#231f20"/>
<g transform="translate(115.60 822.34) scale(0.860 1)"><text x="0.00" y="0.00" font-size="31.00" font-weight="normal" text-anchor="end" fill="#231f20" class="lt">.8</text></g>
<g transform="translate(115.60 893.58) scale(0.860 1)"><text x="0.00" y="0.00" font-size="31.00" font-weight="normal" text-anchor="end" fill="#231f20" class="lt">.6</text></g>
<g transform="translate(115.60 964.82) scale(0.860 1)"><text x="0.00" y="0.00" font-size="31.00" font-weight="normal" text-anchor="end" fill="#231f20" class="lt">.4</text></g>
<g transform="translate(115.60 1036.06) scale(0.860 1)"><text x="0.00" y="0.00" font-size="31.00" font-weight="normal" text-anchor="end" fill="#231f20" class="lt">.2</text></g>
<g transform="translate(115.60 1107.30) scale(0.860 1)"><text x="0.00" y="0.00" font-size="31.00" font-weight="normal" text-anchor="end" fill="#231f20" class="lt">.0</text></g>
<rect x="161.25" y="1123.50" width="1.70" height="20.60" fill="#231f20"/>
<g transform="translate(224.90 1144.10) scale(0.860 1)"><text x="0.00" y="0.00" font-size="31.00" font-weight="normal" text-anchor="middle" fill="#231f20" class="lt">3</text></g>
<g transform="translate(287.70 1144.10) scale(0.860 1)"><text x="0.00" y="0.00" font-size="31.00" font-weight="normal" text-anchor="middle" fill="#231f20" class="lt">5</text></g>
<g transform="translate(350.50 1144.10) scale(0.860 1)"><text x="0.00" y="0.00" font-size="31.00" font-weight="normal" text-anchor="middle" fill="#231f20" class="lt">7</text></g>
<g transform="translate(413.30 1144.10) scale(0.860 1)"><text x="0.00" y="0.00" font-size="31.00" font-weight="normal" text-anchor="middle" fill="#231f20" class="lt">9</text></g>
<rect x="466.95" y="1123.50" width="1.70" height="20.60" fill="#231f20"/>
<rect x="483.25" y="1123.50" width="1.70" height="20.60" fill="#231f20"/>
<rect x="529.05" y="1123.50" width="1.70" height="20.60" fill="#231f20"/>
<g transform="translate(544.90 1144.10) scale(0.860 1)"><text x="0.00" y="0.00" font-size="31.00" font-weight="normal" text-anchor="middle" fill="#231f20" class="lt">3</text></g>
<rect x="591.35" y="1123.50" width="1.70" height="20.60" fill="#231f20"/>
<g transform="translate(607.20 1144.10) scale(0.860 1)"><text x="0.00" y="0.00" font-size="31.00" font-weight="normal" text-anchor="middle" fill="#231f20" class="lt">5</text></g>
<text x="168.00" y="1188.20" font-size="31.50" font-weight="bold" text-anchor="start" fill="#231f20" textLength="428.0" lengthAdjust="spacingAndGlyphs" class="bt">Maximal exercise capacity (METs)</text>
<g transform="translate(25.70 1045.10) rotate(-90)">
<text x="0.00" y="0.00" font-size="30.50" font-weight="bold" text-anchor="start" fill="#231f20" textLength="292.2" lengthAdjust="spacingAndGlyphs" class="yt">Predicted probability of</text>
</g>
<g transform="translate(62.30 992.10) rotate(-90)">
<text x="0.00" y="0.00" font-size="29.50" font-weight="bold" text-anchor="start" fill="#231f20" textLength="185.2" lengthAdjust="spacingAndGlyphs" class="yt">hospitalization</text>
</g>
<g clip-path="url(#clipB)">
<polyline points="137.50,832.49 143.61,835.27 149.71,838.02 155.82,840.75 161.93,843.45 168.03,846.13 174.14,848.78 180.24,851.40 186.35,854.00 192.46,856.57 198.56,859.12 204.67,861.64 210.78,864.14 216.88,866.61 222.99,869.06 229.09,871.48 235.20,873.87 241.31,876.24 247.41,878.59 253.52,880.90 259.62,883.20 265.73,885.46 271.84,887.70 277.94,889.92 284.05,892.11 290.16,894.27 296.26,896.41 302.37,898.53 308.48,900.61 314.58,902.68 320.69,904.71 326.79,906.72 332.90,908.71 339.01,910.67 345.11,912.60 351.22,914.51 357.32,916.39 363.43,918.25 369.54,920.08 375.64,921.89 381.75,923.67 387.86,925.43 393.96,927.16 400.07,928.86 406.18,930.54 412.28,932.19 418.39,933.82 424.49,935.42 430.60,936.99 436.71,938.55 442.81,940.07 448.92,941.57 455.02,943.04 461.13,944.49 467.24,945.91 473.34,947.31 479.45,948.68 485.56,950.03 491.66,951.35 497.77,952.64 503.88,953.91 509.98,955.16 516.09,956.37 522.19,957.57 528.30,958.73 534.41,959.87 540.51,960.99 546.62,962.08 552.73,963.14 558.83,964.18 564.94,965.20 571.04,966.18 577.15,967.14 583.26,968.08 589.36,968.99 595.47,969.88 601.58,970.74 607.68,971.57 613.79,972.38 619.89,973.16 626.00,973.92" fill="none" stroke="#1b5e4a" stroke-width="2.10" stroke-dasharray="29.36 8.5"/>
<polyline points="137.50,868.49 143.61,873.54 149.71,878.52 155.82,883.42 161.93,888.24 168.03,892.97 174.14,897.63 180.24,902.21 186.35,906.71 192.46,911.13 198.56,915.47 204.67,919.72 210.78,923.90 216.88,928.00 222.99,932.02 229.09,935.96 235.20,939.82 241.31,943.60 247.41,947.30 253.52,950.92 259.62,954.46 265.73,957.93 271.84,961.31 277.94,964.61 284.05,967.83 290.16,970.97 296.26,974.03 302.37,977.02 308.48,979.92 314.58,982.74 320.69,985.48 326.79,988.15 332.90,990.73 339.01,993.23 345.11,995.66 351.22,998.00 357.32,1000.26 363.43,1002.45 369.54,1004.55 375.64,1006.58 381.75,1008.52 387.86,1010.39 393.96,1012.17 400.07,1013.88 406.18,1015.50 412.28,1017.05 418.39,1018.51 424.49,1019.90 430.60,1021.21 436.71,1022.43 442.81,1023.58 448.92,1024.65 455.02,1025.63 461.13,1026.54 467.24,1027.37 473.34,1028.12 479.45,1028.78 485.56,1029.37 491.66,1029.88 497.77,1030.31 503.88,1030.66 509.98,1030.93 516.09,1031.11 522.19,1031.22 528.30,1031.25 534.41,1031.20 540.51,1031.07 546.62,1030.86 552.73,1030.57 558.83,1030.20 564.94,1029.75 571.04,1029.22 577.15,1028.62 583.26,1027.93 589.36,1027.16 595.47,1026.31 601.58,1025.38 607.68,1024.37 613.79,1023.28 619.89,1022.12 626.00,1020.87" fill="none" stroke="#2244a0" stroke-width="2.10"/>
</g>
<circle cx="256.40" cy="812.50" r="2.70" fill="#2244a0"/>
<circle cx="269.60" cy="827.80" r="2.70" fill="#2244a0"/>
<circle cx="298.50" cy="839.00" r="2.70" fill="#2244a0"/>
<circle cx="225.90" cy="870.20" r="2.70" fill="#2244a0"/>
<circle cx="167.90" cy="924.60" r="2.70" fill="#2244a0"/>
<circle cx="211.20" cy="907.30" r="2.70" fill="#2244a0"/>
<circle cx="225.90" cy="909.00" r="2.70" fill="#2244a0"/>
<circle cx="259.50" cy="918.90" r="2.70" fill="#2244a0"/>
<circle cx="211.40" cy="942.60" r="2.70" fill="#2244a0"/>
<circle cx="234.60" cy="989.90" r="2.70" fill="#2244a0"/>
<circle cx="247.60" cy="1006.20" r="2.70" fill="#2244a0"/>
<circle cx="262.80" cy="999.10" r="2.70" fill="#2244a0"/>
<circle cx="283.80" cy="991.50" r="2.70" fill="#2244a0"/>
<circle cx="291.60" cy="996.70" r="2.70" fill="#2244a0"/>
<circle cx="292.10" cy="1006.40" r="2.70" fill="#2244a0"/>
<circle cx="283.80" cy="1016.60" r="2.70" fill="#2244a0"/>
<circle cx="283.80" cy="1031.30" r="2.70" fill="#2244a0"/>
<circle cx="278.60" cy="1032.90" r="2.70" fill="#2244a0"/>
<circle cx="333.10" cy="888.90" r="2.70" fill="#2244a0"/>
<circle cx="321.80" cy="913.50" r="2.70" fill="#2244a0"/>
<circle cx="352.30" cy="943.60" r="2.70" fill="#2244a0"/>
<circle cx="349.20" cy="951.50" r="2.70" fill="#2244a0"/>
<circle cx="349.40" cy="958.50" r="2.70" fill="#2244a0"/>
<circle cx="353.30" cy="967.90" r="2.70" fill="#2244a0"/>
<circle cx="333.10" cy="961.00" r="2.70" fill="#2244a0"/>
<circle cx="393.90" cy="950.60" r="2.70" fill="#2244a0"/>
<circle cx="388.90" cy="962.20" r="2.70" fill="#2244a0"/>
<circle cx="399.00" cy="969.80" r="2.70" fill="#2244a0"/>
<circle cx="416.60" cy="955.30" r="2.70" fill="#2244a0"/>
<circle cx="431.80" cy="961.60" r="2.70" fill="#2244a0"/>
<circle cx="431.80" cy="972.30" r="2.70" fill="#2244a0"/>
<circle cx="306.20" cy="977.10" r="2.70" fill="#2244a0"/>
<circle cx="365.90" cy="975.00" r="2.70" fill="#2244a0"/>
<circle cx="320.10" cy="985.10" r="2.70" fill="#2244a0"/>
<circle cx="334.00" cy="984.70" r="2.70" fill="#2244a0"/>
<circle cx="352.60" cy="982.90" r="2.70" fill="#2244a0"/>
<circle cx="349.20" cy="984.40" r="2.70" fill="#2244a0"/>
<circle cx="344.70" cy="987.20" r="2.70" fill="#2244a0"/>
<circle cx="354.20" cy="991.40" r="2.70" fill="#2244a0"/>
<circle cx="349.50" cy="994.80" r="2.70" fill="#2244a0"/>
<circle cx="357.40" cy="1002.10" r="2.70" fill="#2244a0"/>
<circle cx="333.40" cy="1007.10" r="2.70" fill="#2244a0"/>
<circle cx="334.00" cy="1009.70" r="2.70" fill="#2244a0"/>
<circle cx="339.10" cy="1011.60" r="2.70" fill="#2244a0"/>
<circle cx="333.10" cy="1016.60" r="2.70" fill="#2244a0"/>
<circle cx="350.40" cy="1014.70" r="2.70" fill="#2244a0"/>
<circle cx="352.30" cy="1015.30" r="2.70" fill="#2244a0"/>
<circle cx="356.70" cy="1016.60" r="2.70" fill="#2244a0"/>
<circle cx="363.00" cy="1018.20" r="2.70" fill="#2244a0"/>
<circle cx="367.40" cy="1019.50" r="2.70" fill="#2244a0"/>
<circle cx="350.40" cy="1022.30" r="2.70" fill="#2244a0"/>
<circle cx="354.20" cy="1024.80" r="2.70" fill="#2244a0"/>
<circle cx="349.80" cy="1028.60" r="2.70" fill="#2244a0"/>
<circle cx="303.70" cy="1022.00" r="2.70" fill="#2244a0"/>
<circle cx="323.30" cy="1027.10" r="2.70" fill="#2244a0"/>
<circle cx="368.10" cy="1029.90" r="2.70" fill="#2244a0"/>
<circle cx="382.90" cy="974.10" r="2.70" fill="#2244a0"/>
<circle cx="396.40" cy="975.60" r="2.70" fill="#2244a0"/>
<circle cx="431.10" cy="987.60" r="2.70" fill="#2244a0"/>
<circle cx="431.80" cy="991.40" r="2.70" fill="#2244a0"/>
<circle cx="431.10" cy="995.20" r="2.70" fill="#2244a0"/>
<circle cx="431.50" cy="998.30" r="2.70" fill="#2244a0"/>
<circle cx="443.20" cy="998.10" r="2.70" fill="#2244a0"/>
<circle cx="378.10" cy="985.10" r="2.70" fill="#2244a0"/>
<circle cx="366.20" cy="997.00" r="2.70" fill="#2244a0"/>
<circle cx="370.60" cy="998.90" r="2.70" fill="#2244a0"/>
<circle cx="371.60" cy="1002.10" r="2.70" fill="#2244a0"/>
<circle cx="387.00" cy="1005.90" r="2.70" fill="#2244a0"/>
<circle cx="373.10" cy="1010.90" r="2.70" fill="#2244a0"/>
<circle cx="373.10" cy="1012.80" r="2.70" fill="#2244a0"/>
<circle cx="382.90" cy="1017.90" r="2.70" fill="#2244a0"/>
<circle cx="383.20" cy="1023.50" r="2.70" fill="#2244a0"/>
<circle cx="392.70" cy="1022.50" r="2.70" fill="#2244a0"/>
<circle cx="397.70" cy="1022.90" r="2.70" fill="#2244a0"/>
<circle cx="402.10" cy="1023.50" r="2.70" fill="#2244a0"/>
<circle cx="410.30" cy="1026.10" r="2.70" fill="#2244a0"/>
<circle cx="431.80" cy="1017.20" r="2.70" fill="#2244a0"/>
<circle cx="431.80" cy="1027.30" r="2.70" fill="#2244a0"/>
<circle cx="310.70" cy="1037.50" r="2.70" fill="#2244a0"/>
<circle cx="333.10" cy="1042.20" r="2.70" fill="#2244a0"/>
<circle cx="333.10" cy="1050.80" r="2.70" fill="#2244a0"/>
<circle cx="349.20" cy="1045.50" r="2.70" fill="#2244a0"/>
<circle cx="349.20" cy="1057.70" r="2.70" fill="#2244a0"/>
<circle cx="361.50" cy="1043.00" r="2.70" fill="#2244a0"/>
<circle cx="358.00" cy="1047.30" r="2.70" fill="#2244a0"/>
<circle cx="362.80" cy="1048.00" r="2.70" fill="#2244a0"/>
<circle cx="369.70" cy="1049.50" r="2.70" fill="#2244a0"/>
<circle cx="382.60" cy="1029.60" r="2.70" fill="#2244a0"/>
<circle cx="382.20" cy="1032.50" r="2.70" fill="#2244a0"/>
<circle cx="383.20" cy="1040.90" r="2.70" fill="#2244a0"/>
<circle cx="383.80" cy="1052.00" r="2.70" fill="#2244a0"/>
<circle cx="399.80" cy="1044.50" r="2.70" fill="#2244a0"/>
<circle cx="404.60" cy="1045.50" r="2.70" fill="#2244a0"/>
<circle cx="398.70" cy="1054.60" r="2.70" fill="#2244a0"/>
<circle cx="431.80" cy="1031.90" r="2.70" fill="#2244a0"/>
<circle cx="431.80" cy="1041.30" r="2.70" fill="#2244a0"/>
<circle cx="431.80" cy="1035.60" r="2.70" fill="#2244a0"/>
<circle cx="432.40" cy="1043.20" r="2.70" fill="#2244a0"/>
<circle cx="441.20" cy="1045.10" r="2.70" fill="#2244a0"/>
<circle cx="437.20" cy="1051.40" r="2.70" fill="#2244a0"/>
<circle cx="431.50" cy="1057.70" r="2.70" fill="#2244a0"/>
<circle cx="432.10" cy="1060.20" r="2.70" fill="#2244a0"/>
<circle cx="478.20" cy="914.50" r="2.70" fill="#2244a0"/>
<circle cx="458.90" cy="973.00" r="2.70" fill="#2244a0"/>
<circle cx="464.30" cy="972.00" r="2.70" fill="#2244a0"/>
<circle cx="465.20" cy="995.70" r="2.70" fill="#2244a0"/>
<circle cx="464.50" cy="999.10" r="2.70" fill="#2244a0"/>
<circle cx="471.50" cy="995.30" r="2.70" fill="#2244a0"/>
<circle cx="468.30" cy="1007.90" r="2.70" fill="#2244a0"/>
<circle cx="480.70" cy="1007.90" r="2.70" fill="#2244a0"/>
<circle cx="488.30" cy="1008.30" r="2.70" fill="#2244a0"/>
<circle cx="448.10" cy="1021.30" r="2.70" fill="#2244a0"/>
<circle cx="448.40" cy="1023.20" r="2.70" fill="#2244a0"/>
<circle cx="454.50" cy="1024.20" r="2.70" fill="#2244a0"/>
<circle cx="464.50" cy="1021.30" r="2.70" fill="#2244a0"/>
<circle cx="481.00" cy="1020.40" r="2.70" fill="#2244a0"/>
<circle cx="481.60" cy="1030.10" r="2.70" fill="#2244a0"/>
<circle cx="464.50" cy="1039.30" r="2.70" fill="#2244a0"/>
<circle cx="445.00" cy="1043.40" r="2.70" fill="#2244a0"/>
<circle cx="448.10" cy="1046.50" r="2.70" fill="#2244a0"/>
<circle cx="458.00" cy="1048.70" r="2.70" fill="#2244a0"/>
<circle cx="481.00" cy="1045.60" r="2.70" fill="#2244a0"/>
<circle cx="478.70" cy="1052.20" r="2.70" fill="#2244a0"/>
<circle cx="480.70" cy="1059.80" r="2.70" fill="#2244a0"/>
<circle cx="457.40" cy="1063.50" r="2.70" fill="#2244a0"/>
<circle cx="463.30" cy="1069.20" r="2.70" fill="#2244a0"/>
<circle cx="465.50" cy="1069.70" r="2.70" fill="#2244a0"/>
<circle cx="530.10" cy="968.00" r="2.70" fill="#2244a0"/>
<circle cx="579.10" cy="992.00" r="2.70" fill="#2244a0"/>
<circle cx="530.10" cy="1033.60" r="2.70" fill="#2244a0"/>
<circle cx="565.50" cy="1041.70" r="2.70" fill="#2244a0"/>
<circle cx="581.00" cy="1060.70" r="2.70" fill="#2244a0"/>
<circle cx="579.70" cy="1066.90" r="2.70" fill="#2244a0"/>
<circle cx="382.50" cy="959.90" r="2.70" fill="#2244a0"/>
<circle cx="431.50" cy="993.30" r="2.70" fill="#2244a0"/>
<path d="M186.80 808.40L186.80 803.30M186.80 808.40L181.95 806.82M186.80 808.40L183.80 812.53M186.80 808.40L189.80 812.53M186.80 808.40L191.65 806.82" stroke="#1b5e4a" stroke-width="1.80" fill="none"/>
<path d="M197.20 814.80L197.20 809.70M197.20 814.80L192.35 813.22M197.20 814.80L194.20 818.93M197.20 814.80L200.20 818.93M197.20 814.80L202.05 813.22" stroke="#1b5e4a" stroke-width="1.80" fill="none"/>
<path d="M224.70 781.70L224.70 776.60M224.70 781.70L219.85 780.12M224.70 781.70L221.70 785.83M224.70 781.70L227.70 785.83M224.70 781.70L229.55 780.12" stroke="#1b5e4a" stroke-width="1.80" fill="none"/>
<path d="M236.30 790.00L236.30 784.90M236.30 790.00L231.45 788.42M236.30 790.00L233.30 794.13M236.30 790.00L239.30 794.13M236.30 790.00L241.15 788.42" stroke="#1b5e4a" stroke-width="1.80" fill="none"/>
<path d="M254.30 787.60L254.30 782.50M254.30 787.60L249.45 786.02M254.30 787.60L251.30 791.73M254.30 787.60L257.30 791.73M254.30 787.60L259.15 786.02" stroke="#1b5e4a" stroke-width="1.80" fill="none"/>
<path d="M268.90 796.40L268.90 791.30M268.90 796.40L264.05 794.82M268.90 796.40L265.90 800.53M268.90 796.40L271.90 800.53M268.90 796.40L273.75 794.82" stroke="#1b5e4a" stroke-width="1.80" fill="none"/>
<path d="M269.60 811.70L269.60 806.60M269.60 811.70L264.75 810.12M269.60 811.70L266.60 815.83M269.60 811.70L272.60 815.83M269.60 811.70L274.45 810.12" stroke="#1b5e4a" stroke-width="1.80" fill="none"/>
<path d="M257.60 827.10L257.60 822.00M257.60 827.10L252.75 825.52M257.60 827.10L254.60 831.23M257.60 827.10L260.60 831.23M257.60 827.10L262.45 825.52" stroke="#1b5e4a" stroke-width="1.80" fill="none"/>
<path d="M255.20 837.80L255.20 832.70M255.20 837.80L250.35 836.22M255.20 837.80L252.20 841.93M255.20 837.80L258.20 841.93M255.20 837.80L260.05 836.22" stroke="#1b5e4a" stroke-width="1.80" fill="none"/>
<path d="M283.80 835.40L283.80 830.30M283.80 835.40L278.95 833.82M283.80 835.40L280.80 839.53M283.80 835.40L286.80 839.53M283.80 835.40L288.65 833.82" stroke="#1b5e4a" stroke-width="1.80" fill="none"/>
<path d="M295.90 821.70L295.90 816.60M295.90 821.70L291.05 820.12M295.90 821.70L292.90 825.83M295.90 821.70L298.90 825.83M295.90 821.70L300.75 820.12" stroke="#1b5e4a" stroke-width="1.80" fill="none"/>
<path d="M293.80 835.40L293.80 830.30M293.80 835.40L288.95 833.82M293.80 835.40L290.80 839.53M293.80 835.40L296.80 839.53M293.80 835.40L298.65 833.82" stroke="#1b5e4a" stroke-width="1.80" fill="none"/>
<path d="M242.90 859.80L242.90 854.70M242.90 859.80L238.05 858.22M242.90 859.80L239.90 863.93M242.90 859.80L245.90 863.93M242.90 859.80L247.75 858.22" stroke="#1b5e4a" stroke-width="1.80" fill="none"/>
<path d="M274.10 869.00L274.10 863.90M274.10 869.00L269.25 867.42M274.10 869.00L271.10 873.13M274.10 869.00L277.10 873.13M274.10 869.00L278.95 867.42" stroke="#1b5e4a" stroke-width="1.80" fill="none"/>
<path d="M284.50 869.70L284.50 864.60M284.50 869.70L279.65 868.12M284.50 869.70L281.50 873.83M284.50 869.70L287.50 873.83M284.50 869.70L289.35 868.12" stroke="#1b5e4a" stroke-width="1.80" fill="none"/>
<path d="M249.80 878.00L249.80 872.90M249.80 878.00L244.95 876.42M249.80 878.00L246.80 882.13M249.80 878.00L252.80 882.13M249.80 878.00L254.65 876.42" stroke="#1b5e4a" stroke-width="1.80" fill="none"/>
<path d="M267.30 879.40L267.30 874.30M267.30 879.40L262.45 877.82M267.30 879.40L264.30 883.53M267.30 879.40L270.30 883.53M267.30 879.40L272.15 877.82" stroke="#1b5e4a" stroke-width="1.80" fill="none"/>
<path d="M243.60 884.80L243.60 879.70M243.60 884.80L238.75 883.22M243.60 884.80L240.60 888.93M243.60 884.80L246.60 888.93M243.60 884.80L248.45 883.22" stroke="#1b5e4a" stroke-width="1.80" fill="none"/>
<path d="M252.40 891.00L252.40 885.90M252.40 891.00L247.55 889.42M252.40 891.00L249.40 895.13M252.40 891.00L255.40 895.13M252.40 891.00L257.25 889.42" stroke="#1b5e4a" stroke-width="1.80" fill="none"/>
<path d="M256.20 889.30L256.20 884.20M256.20 889.30L251.35 887.72M256.20 889.30L253.20 893.43M256.20 889.30L259.20 893.43M256.20 889.30L261.05 887.72" stroke="#1b5e4a" stroke-width="1.80" fill="none"/>
<path d="M272.50 893.40L272.50 888.30M272.50 893.40L267.65 891.82M272.50 893.40L269.50 897.53M272.50 893.40L275.50 897.53M272.50 893.40L277.35 891.82" stroke="#1b5e4a" stroke-width="1.80" fill="none"/>
<path d="M267.30 900.50L267.30 895.40M267.30 900.50L262.45 898.92M267.30 900.50L264.30 904.63M267.30 900.50L270.30 904.63M267.30 900.50L272.15 898.92" stroke="#1b5e4a" stroke-width="1.80" fill="none"/>
<path d="M167.90 905.20L167.90 900.10M167.90 905.20L163.05 903.62M167.90 905.20L164.90 909.33M167.90 905.20L170.90 909.33M167.90 905.20L172.75 903.62" stroke="#1b5e4a" stroke-width="1.80" fill="none"/>
<path d="M213.30 899.00L213.30 893.90M213.30 899.00L208.45 897.42M213.30 899.00L210.30 903.13M213.30 899.00L216.30 903.13M213.30 899.00L218.15 897.42" stroke="#1b5e4a" stroke-width="1.80" fill="none"/>
<path d="M233.20 904.70L233.20 899.60M233.20 904.70L228.35 903.12M233.20 904.70L230.20 908.83M233.20 904.70L236.20 908.83M233.20 904.70L238.05 903.12" stroke="#1b5e4a" stroke-width="1.80" fill="none"/>
<path d="M242.20 918.40L242.20 913.30M242.20 918.40L237.35 916.82M242.20 918.40L239.20 922.53M242.20 918.40L245.20 922.53M242.20 918.40L247.05 916.82" stroke="#1b5e4a" stroke-width="1.80" fill="none"/>
<path d="M285.50 925.30L285.50 920.20M285.50 925.30L280.65 923.72M285.50 925.30L282.50 929.43M285.50 925.30L288.50 929.43M285.50 925.30L290.35 923.72" stroke="#1b5e4a" stroke-width="1.80" fill="none"/>
<path d="M247.60 935.00L247.60 929.90M247.60 935.00L242.75 933.42M247.60 935.00L244.60 939.13M247.60 935.00L250.60 939.13M247.60 935.00L252.45 933.42" stroke="#1b5e4a" stroke-width="1.80" fill="none"/>
<path d="M253.30 932.40L253.30 927.30M253.30 932.40L248.45 930.82M253.30 932.40L250.30 936.53M253.30 932.40L256.30 936.53M253.30 932.40L258.15 930.82" stroke="#1b5e4a" stroke-width="1.80" fill="none"/>
<path d="M225.60 940.90L225.60 935.80M225.60 940.90L220.75 939.32M225.60 940.90L222.60 945.03M225.60 940.90L228.60 945.03M225.60 940.90L230.45 939.32" stroke="#1b5e4a" stroke-width="1.80" fill="none"/>
<path d="M283.60 944.50L283.60 939.40M283.60 944.50L278.75 942.92M283.60 944.50L280.60 948.63M283.60 944.50L286.60 948.63M283.60 944.50L288.45 942.92" stroke="#1b5e4a" stroke-width="1.80" fill="none"/>
<path d="M263.00 955.60L263.00 950.50M263.00 955.60L258.15 954.02M263.00 955.60L260.00 959.73M263.00 955.60L266.00 959.73M263.00 955.60L267.85 954.02" stroke="#1b5e4a" stroke-width="1.80" fill="none"/>
<path d="M290.90 986.10L290.90 981.00M290.90 986.10L286.05 984.52M290.90 986.10L287.90 990.23M290.90 986.10L293.90 990.23M290.90 986.10L295.75 984.52" stroke="#1b5e4a" stroke-width="1.80" fill="none"/>
<path d="M293.80 991.10L293.80 986.00M293.80 991.10L288.95 989.52M293.80 991.10L290.80 995.23M293.80 991.10L296.80 995.23M293.80 991.10L298.65 989.52" stroke="#1b5e4a" stroke-width="1.80" fill="none"/>
<path d="M333.70 830.70L333.70 825.60M333.70 830.70L328.85 829.12M333.70 830.70L330.70 834.83M333.70 830.70L336.70 834.83M333.70 830.70L338.55 829.12" stroke="#1b5e4a" stroke-width="1.80" fill="none"/>
<path d="M340.30 832.10L340.30 827.00M340.30 832.10L335.45 830.52M340.30 832.10L337.30 836.23M340.30 832.10L343.30 836.23M340.30 832.10L345.15 830.52" stroke="#1b5e4a" stroke-width="1.80" fill="none"/>
<path d="M349.10 819.30L349.10 814.20M349.10 819.30L344.25 817.72M349.10 819.30L346.10 823.43M349.10 819.30L352.10 823.43M349.10 819.30L353.95 817.72" stroke="#1b5e4a" stroke-width="1.80" fill="none"/>
<path d="M387.60 854.30L387.60 849.20M387.60 854.30L382.75 852.72M387.60 854.30L384.60 858.43M387.60 854.30L390.60 858.43M387.60 854.30L392.45 852.72" stroke="#1b5e4a" stroke-width="1.80" fill="none"/>
<path d="M306.60 865.60L306.60 860.50M306.60 865.60L301.75 864.02M306.60 865.60L303.60 869.73M306.60 865.60L309.60 869.73M306.60 865.60L311.45 864.02" stroke="#1b5e4a" stroke-width="1.80" fill="none"/>
<path d="M333.30 861.20L333.30 856.10M333.30 861.20L328.45 859.62M333.30 861.20L330.30 865.33M333.30 861.20L336.30 865.33M333.30 861.20L338.15 859.62" stroke="#1b5e4a" stroke-width="1.80" fill="none"/>
<path d="M349.80 865.30L349.80 860.20M349.80 865.30L344.95 863.72M349.80 865.30L346.80 869.43M349.80 865.30L352.80 869.43M349.80 865.30L354.65 863.72" stroke="#1b5e4a" stroke-width="1.80" fill="none"/>
<path d="M342.00 870.00L342.00 864.90M342.00 870.00L337.15 868.42M342.00 870.00L339.00 874.13M342.00 870.00L345.00 874.13M342.00 870.00L346.85 868.42" stroke="#1b5e4a" stroke-width="1.80" fill="none"/>
<path d="M371.60 875.70L371.60 870.60M371.60 875.70L366.75 874.12M371.60 875.70L368.60 879.83M371.60 875.70L374.60 879.83M371.60 875.70L376.45 874.12" stroke="#1b5e4a" stroke-width="1.80" fill="none"/>
<path d="M333.10 897.10L333.10 892.00M333.10 897.10L328.25 895.52M333.10 897.10L330.10 901.23M333.10 897.10L336.10 901.23M333.10 897.10L337.95 895.52" stroke="#1b5e4a" stroke-width="1.80" fill="none"/>
<path d="M339.70 891.50L339.70 886.40M339.70 891.50L334.85 889.92M339.70 891.50L336.70 895.63M339.70 891.50L342.70 895.63M339.70 891.50L344.55 889.92" stroke="#1b5e4a" stroke-width="1.80" fill="none"/>
<path d="M338.70 889.60L338.70 884.50M338.70 889.60L333.85 888.02M338.70 889.60L335.70 893.73M338.70 889.60L341.70 893.73M338.70 889.60L343.55 888.02" stroke="#1b5e4a" stroke-width="1.80" fill="none"/>
<path d="M310.70 897.10L310.70 892.00M310.70 897.10L305.85 895.52M310.70 897.10L307.70 901.23M310.70 897.10L313.70 901.23M310.70 897.10L315.55 895.52" stroke="#1b5e4a" stroke-width="1.80" fill="none"/>
<path d="M306.20 900.30L306.20 895.20M306.20 900.30L301.35 898.72M306.20 900.30L303.20 904.43M306.20 900.30L309.20 904.43M306.20 900.30L311.05 898.72" stroke="#1b5e4a" stroke-width="1.80" fill="none"/>
<path d="M300.30 912.90L300.30 907.80M300.30 912.90L295.45 911.32M300.30 912.90L297.30 917.03M300.30 912.90L303.30 917.03M300.30 912.90L305.15 911.32" stroke="#1b5e4a" stroke-width="1.80" fill="none"/>
<path d="M314.70 907.50L314.70 902.40M314.70 907.50L309.85 905.92M314.70 907.50L311.70 911.63M314.70 907.50L317.70 911.63M314.70 907.50L319.55 905.92" stroke="#1b5e4a" stroke-width="1.80" fill="none"/>
<path d="M333.10 917.30L333.10 912.20M333.10 917.30L328.25 915.72M333.10 917.30L330.10 921.43M333.10 917.30L336.10 921.43M333.10 917.30L337.95 915.72" stroke="#1b5e4a" stroke-width="1.80" fill="none"/>
<path d="M365.90 900.90L365.90 895.80M365.90 900.90L361.05 899.32M365.90 900.90L362.90 905.03M365.90 900.90L368.90 905.03M365.90 900.90L370.75 899.32" stroke="#1b5e4a" stroke-width="1.80" fill="none"/>
<path d="M337.80 920.60L337.80 915.50M337.80 920.60L332.95 919.02M337.80 920.60L334.80 924.73M337.80 920.60L340.80 924.73M337.80 920.60L342.65 919.02" stroke="#1b5e4a" stroke-width="1.80" fill="none"/>
<path d="M332.70 926.30L332.70 921.20M332.70 926.30L327.85 924.72M332.70 926.30L329.70 930.43M332.70 926.30L335.70 930.43M332.70 926.30L337.55 924.72" stroke="#1b5e4a" stroke-width="1.80" fill="none"/>
<path d="M315.10 932.00L315.10 926.90M315.10 932.00L310.25 930.42M315.10 932.00L312.10 936.13M315.10 932.00L318.10 936.13M315.10 932.00L319.95 930.42" stroke="#1b5e4a" stroke-width="1.80" fill="none"/>
<path d="M311.90 938.00L311.90 932.90M311.90 938.00L307.05 936.42M311.90 938.00L308.90 942.13M311.90 938.00L314.90 942.13M311.90 938.00L316.75 936.42" stroke="#1b5e4a" stroke-width="1.80" fill="none"/>
<path d="M333.40 939.90L333.40 934.80M333.40 939.90L328.55 938.32M333.40 939.90L330.40 944.03M333.40 939.90L336.40 944.03M333.40 939.90L338.25 938.32" stroke="#1b5e4a" stroke-width="1.80" fill="none"/>
<path d="M366.80 937.60L366.80 932.50M366.80 937.60L361.95 936.02M366.80 937.60L363.80 941.73M366.80 937.60L369.80 941.73M366.80 937.60L371.65 936.02" stroke="#1b5e4a" stroke-width="1.80" fill="none"/>
<path d="M356.70 946.70L356.70 941.60M356.70 946.70L351.85 945.12M356.70 946.70L353.70 950.83M356.70 946.70L359.70 950.83M356.70 946.70L361.55 945.12" stroke="#1b5e4a" stroke-width="1.80" fill="none"/>
<path d="M349.80 961.00L349.80 955.90M349.80 961.00L344.95 959.42M349.80 961.00L346.80 965.13M349.80 961.00L352.80 965.13M349.80 961.00L354.65 959.42" stroke="#1b5e4a" stroke-width="1.80" fill="none"/>
<path d="M368.10 960.10L368.10 955.00M368.10 960.10L363.25 958.52M368.10 960.10L365.10 964.23M368.10 960.10L371.10 964.23M368.10 960.10L372.95 958.52" stroke="#1b5e4a" stroke-width="1.80" fill="none"/>
<path d="M431.80 883.90L431.80 878.80M431.80 883.90L426.95 882.32M431.80 883.90L428.80 888.03M431.80 883.90L434.80 888.03M431.80 883.90L436.65 882.32" stroke="#1b5e4a" stroke-width="1.80" fill="none"/>
<path d="M431.80 893.40L431.80 888.30M431.80 893.40L426.95 891.82M431.80 893.40L428.80 897.53M431.80 893.40L434.80 897.53M431.80 893.40L436.65 891.82" stroke="#1b5e4a" stroke-width="1.80" fill="none"/>
<path d="M431.80 915.40L431.80 910.30M431.80 915.40L426.95 913.82M431.80 915.40L428.80 919.53M431.80 915.40L434.80 919.53M431.80 915.40L436.65 913.82" stroke="#1b5e4a" stroke-width="1.80" fill="none"/>
<path d="M431.10 928.20L431.10 923.10M431.10 928.20L426.25 926.62M431.10 928.20L428.10 932.33M431.10 928.20L434.10 932.33M431.10 928.20L435.95 926.62" stroke="#1b5e4a" stroke-width="1.80" fill="none"/>
<path d="M438.70 926.70L438.70 921.60M438.70 926.70L433.85 925.12M438.70 926.70L435.70 930.83M438.70 926.70L441.70 930.83M438.70 926.70L443.55 925.12" stroke="#1b5e4a" stroke-width="1.80" fill="none"/>
<path d="M417.30 930.40L417.30 925.30M417.30 930.40L412.45 928.82M417.30 930.40L414.30 934.53M417.30 930.40L420.30 934.53M417.30 930.40L422.15 928.82" stroke="#1b5e4a" stroke-width="1.80" fill="none"/>
<path d="M383.20 947.10L383.20 942.00M383.20 947.10L378.35 945.52M383.20 947.10L380.20 951.23M383.20 947.10L386.20 951.23M383.20 947.10L388.05 945.52" stroke="#1b5e4a" stroke-width="1.80" fill="none"/>
<path d="M385.70 946.00L385.70 940.90M385.70 946.00L380.85 944.42M385.70 946.00L382.70 950.13M385.70 946.00L388.70 950.13M385.70 946.00L390.55 944.42" stroke="#1b5e4a" stroke-width="1.80" fill="none"/>
<path d="M382.20 954.00L382.20 948.90M382.20 954.00L377.35 952.42M382.20 954.00L379.20 958.13M382.20 954.00L385.20 958.13M382.20 954.00L387.05 952.42" stroke="#1b5e4a" stroke-width="1.80" fill="none"/>
<path d="M382.20 957.80L382.20 952.70M382.20 957.80L377.35 956.22M382.20 957.80L379.20 961.93M382.20 957.80L385.20 961.93M382.20 957.80L387.05 956.22" stroke="#1b5e4a" stroke-width="1.80" fill="none"/>
<path d="M431.80 949.60L431.80 944.50M431.80 949.60L426.95 948.02M431.80 949.60L428.80 953.73M431.80 949.60L434.80 953.73M431.80 949.60L436.65 948.02" stroke="#1b5e4a" stroke-width="1.80" fill="none"/>
<path d="M333.40 981.30L333.40 976.20M333.40 981.30L328.55 979.72M333.40 981.30L330.40 985.43M333.40 981.30L336.40 985.43M333.40 981.30L338.25 979.72" stroke="#1b5e4a" stroke-width="1.80" fill="none"/>
<path d="M333.40 999.80L333.40 994.70M333.40 999.80L328.55 998.22M333.40 999.80L330.40 1003.93M333.40 999.80L336.40 1003.93M333.40 999.80L338.25 998.22" stroke="#1b5e4a" stroke-width="1.80" fill="none"/>
<path d="M342.00 999.10L342.00 994.00M342.00 999.10L337.15 997.52M342.00 999.10L339.00 1003.23M342.00 999.10L345.00 1003.23M342.00 999.10L346.85 997.52" stroke="#1b5e4a" stroke-width="1.80" fill="none"/>
<path d="M431.50 982.50L431.50 977.40M431.50 982.50L426.65 980.92M431.50 982.50L428.50 986.63M431.50 982.50L434.50 986.63M431.50 982.50L436.35 980.92" stroke="#1b5e4a" stroke-width="1.80" fill="none"/>
<path d="M439.30 998.90L439.30 993.80M439.30 998.90L434.45 997.32M439.30 998.90L436.30 1003.03M439.30 998.90L442.30 1003.03M439.30 998.90L444.15 997.32" stroke="#1b5e4a" stroke-width="1.80" fill="none"/>
<path d="M444.00 848.10L444.00 843.00M444.00 848.10L439.15 846.52M444.00 848.10L441.00 852.23M444.00 848.10L447.00 852.23M444.00 848.10L448.85 846.52" stroke="#1b5e4a" stroke-width="1.80" fill="none"/>
<path d="M448.10 905.40L448.10 900.30M448.10 905.40L443.25 903.82M448.10 905.40L445.10 909.53M448.10 905.40L451.10 909.53M448.10 905.40L452.95 903.82" stroke="#1b5e4a" stroke-width="1.80" fill="none"/>
<path d="M461.80 907.50L461.80 902.40M461.80 907.50L456.95 905.92M461.80 907.50L458.80 911.63M461.80 907.50L464.80 911.63M461.80 907.50L466.65 905.92" stroke="#1b5e4a" stroke-width="1.80" fill="none"/>
<path d="M481.00 947.30L481.00 942.20M481.00 947.30L476.15 945.72M481.00 947.30L478.00 951.43M481.00 947.30L484.00 951.43M481.00 947.30L485.85 945.72" stroke="#1b5e4a" stroke-width="1.80" fill="none"/>
<path d="M447.50 1006.40L447.50 1001.30M447.50 1006.40L442.65 1004.82M447.50 1006.40L444.50 1010.53M447.50 1006.40L450.50 1010.53M447.50 1006.40L452.35 1004.82" stroke="#1b5e4a" stroke-width="1.80" fill="none"/>
<path d="M530.10 966.80L530.10 961.70M530.10 966.80L525.25 965.22M530.10 966.80L527.10 970.93M530.10 966.80L533.10 970.93M530.10 966.80L534.95 965.22" stroke="#1b5e4a" stroke-width="1.80" fill="none"/>
<path d="M432.00 951.30L432.00 946.20M432.00 951.30L427.15 949.72M432.00 951.30L429.00 955.43M432.00 951.30L435.00 955.43M432.00 951.30L436.85 949.72" stroke="#1b5e4a" stroke-width="1.80" fill="none"/>
<rect x="130.40" y="1206.30" width="500.80" height="106.60" fill="none" stroke="#1a1a1a" stroke-width="1.80"/>
<path d="M154.70 1239.40L154.70 1231.80M154.70 1239.40L147.47 1237.05M154.70 1239.40L150.23 1245.55M154.70 1239.40L159.17 1245.55M154.70 1239.40L161.93 1237.05" stroke="#1b5e4a" stroke-width="1.65" fill="none"/>
<circle cx="157.20" cy="1281.10" r="5.40" fill="#2244a0"/>
<text x="173.60" y="1246.70" font-size="28.3" fill="#231f20" class="lt" textLength="446.0" lengthAdjust="spacingAndGlyphs">Age ¾65 years(<tspan fill="#1b5e4a">--</tspan> quadratic R<tspan dy="-12" font-size="20">2</tspan><tspan dy="12">=0.28)</tspan></text>
<text x="173.60" y="1289.00" font-size="28.3" fill="#231f20" class="lt" textLength="446.0" lengthAdjust="spacingAndGlyphs">Age &lt;65 years (<tspan fill="#2244a0">–</tspan> quadratic R<tspan dy="-12" font-size="20">2</tspan><tspan dy="12">=0.I9)</tspan></text>
<g transform="translate(2.30 1357.30) scale(0.900 1)"><text x="0.00" y="0.00" font-size="38.00" font-weight="normal" text-anchor="start" fill="#111" class="lb">B</text></g>
<rect x="139.90" y="1409.70" width="488.90" height="395.90" fill="none" stroke="#1a1a1a" stroke-width="1.80"/>
<line x1="129.40" y1="1449.20" x2="139.90" y2="1449.20" stroke="#1a1a1a" stroke-width="1.80"/>
<line x1="129.40" y1="1520.44" x2="139.90" y2="1520.44" stroke="#1a1a1a" stroke-width="1.80"/>
<line x1="129.40" y1="1591.68" x2="139.90" y2="1591.68" stroke="#1a1a1a" stroke-width="1.80"/>
<line x1="129.40" y1="1662.92" x2="139.90" y2="1662.92" stroke="#1a1a1a" stroke-width="1.80"/>
<line x1="129.40" y1="1734.16" x2="139.90" y2="1734.16" stroke="#1a1a1a" stroke-width="1.80"/>
<line x1="129.40" y1="1805.60" x2="139.90" y2="1805.60" stroke="#1a1a1a" stroke-width="1.80"/>
<line x1="164.50" y1="1805.60" x2="164.50" y2="1815.60" stroke="#1a1a1a" stroke-width="1.80"/>
<line x1="227.30" y1="1805.60" x2="227.30" y2="1815.60" stroke="#1a1a1a" stroke-width="1.80"/>
<line x1="290.10" y1="1805.60" x2="290.10" y2="1815.60" stroke="#1a1a1a" stroke-width="1.80"/>
<line x1="352.90" y1="1805.60" x2="352.90" y2="1815.60" stroke="#1a1a1a" stroke-width="1.80"/>
<line x1="415.70" y1="1805.60" x2="415.70" y2="1815.60" stroke="#1a1a1a" stroke-width="1.80"/>
<line x1="478.50" y1="1805.60" x2="478.50" y2="1815.60" stroke="#1a1a1a" stroke-width="1.80"/>
<line x1="541.30" y1="1805.60" x2="541.30" y2="1815.60" stroke="#1a1a1a" stroke-width="1.80"/>
<line x1="604.10" y1="1805.60" x2="604.10" y2="1815.60" stroke="#1a1a1a" stroke-width="1.80"/>
<g transform="translate(118.00 1459.40) scale(0.860 1)"><text x="0.00" y="0.00" font-size="31.00" font-weight="normal" text-anchor="end" fill="#231f20" class="lt">.0</text></g>
<rect x="89.65" y="1438.20" width="1.70" height="20.80" fill="#231f20"/>
<g transform="translate(118.00 1530.64) scale(0.860 1)"><text x="0.00" y="0.00" font-size="31.00" font-weight="normal" text-anchor="end" fill="#231f20" class="lt">.8</text></g>
<g transform="translate(118.00 1601.88) scale(0.860 1)"><text x="0.00" y="0.00" font-size="31.00" font-weight="normal" text-anchor="end" fill="#231f20" class="lt">.6</text></g>
<g transform="translate(118.00 1673.12) scale(0.860 1)"><text x="0.00" y="0.00" font-size="31.00" font-weight="normal" text-anchor="end" fill="#231f20" class="lt">.4</text></g>
<g transform="translate(118.00 1744.36) scale(0.860 1)"><text x="0.00" y="0.00" font-size="31.00" font-weight="normal" text-anchor="end" fill="#231f20" class="lt">.2</text></g>
<g transform="translate(118.00 1815.60) scale(0.860 1)"><text x="0.00" y="0.00" font-size="31.00" font-weight="normal" text-anchor="end" fill="#231f20" class="lt">.0</text></g>
<rect x="163.65" y="1831.80" width="1.70" height="20.60" fill="#231f20"/>
<g transform="translate(227.30 1852.40) scale(0.860 1)"><text x="0.00" y="0.00" font-size="31.00" font-weight="normal" text-anchor="middle" fill="#231f20" class="lt">3</text></g>
<g transform="translate(290.10 1852.40) scale(0.860 1)"><text x="0.00" y="0.00" font-size="31.00" font-weight="normal" text-anchor="middle" fill="#231f20" class="lt">5</text></g>
<g transform="translate(352.90 1852.40) scale(0.860 1)"><text x="0.00" y="0.00" font-size="31.00" font-weight="normal" text-anchor="middle" fill="#231f20" class="lt">7</text></g>
<g transform="translate(415.70 1852.40) scale(0.860 1)"><text x="0.00" y="0.00" font-size="31.00" font-weight="normal" text-anchor="middle" fill="#231f20" class="lt">9</text></g>
<rect x="469.35" y="1831.80" width="1.70" height="20.60" fill="#231f20"/>
<rect x="485.65" y="1831.80" width="1.70" height="20.60" fill="#231f20"/>
<rect x="531.45" y="1831.80" width="1.70" height="20.60" fill="#231f20"/>
<g transform="translate(547.30 1852.40) scale(0.860 1)"><text x="0.00" y="0.00" font-size="31.00" font-weight="normal" text-anchor="middle" fill="#231f20" class="lt">3</text></g>
<rect x="593.75" y="1831.80" width="1.70" height="20.60" fill="#231f20"/>
<g transform="translate(609.60 1852.40) scale(0.860 1)"><text x="0.00" y="0.00" font-size="31.00" font-weight="normal" text-anchor="middle" fill="#231f20" class="lt">5</text></g>
<text x="170.40" y="1896.50" font-size="31.50" font-weight="bold" text-anchor="start" fill="#231f20" textLength="428.0" lengthAdjust="spacingAndGlyphs" class="bt">Maximal exercise capacity (METs)</text>
<g transform="translate(28.10 1753.40) rotate(-90)">
<text x="0.00" y="0.00" font-size="30.50" font-weight="bold" text-anchor="start" fill="#231f20" textLength="292.2" lengthAdjust="spacingAndGlyphs" class="yt">Predicted probability of</text>
</g>
<g transform="translate(64.70 1700.40) rotate(-90)">
<text x="0.00" y="0.00" font-size="29.50" font-weight="bold" text-anchor="start" fill="#231f20" textLength="185.2" lengthAdjust="spacingAndGlyphs" class="yt">hospitalization</text>
</g>
<g clip-path="url(#clipC)">
<polyline points="139.90,1503.35 146.01,1508.21 152.12,1513.02 158.23,1517.79 164.34,1522.51 170.46,1527.19 176.57,1531.82 182.68,1536.41 188.79,1540.95 194.90,1545.45 201.01,1549.90 207.12,1554.31 213.24,1558.67 219.35,1562.99 225.46,1567.26 231.57,1571.49 237.68,1575.67 243.79,1579.80 249.90,1583.89 256.01,1587.94 262.12,1591.94 268.24,1595.90 274.35,1599.81 280.46,1603.67 286.57,1607.49 292.68,1611.27 298.79,1615.00 304.90,1618.68 311.01,1622.32 317.13,1625.92 323.24,1629.47 329.35,1632.97 335.46,1636.43 341.57,1639.85 347.68,1643.22 353.79,1646.54 359.90,1649.82 366.02,1653.05 372.13,1656.24 378.24,1659.38 384.35,1662.48 390.46,1665.54 396.57,1668.54 402.68,1671.51 408.79,1674.43 414.91,1677.30 421.02,1680.13 427.13,1682.91 433.24,1685.65 439.35,1688.34 445.46,1690.99 451.57,1693.59 457.68,1696.15 463.80,1698.66 469.91,1701.13 476.02,1703.55 482.13,1705.92 488.24,1708.26 494.35,1710.54 500.46,1712.78 506.58,1714.98 512.69,1717.13 518.80,1719.24 524.91,1721.30 531.02,1723.31 537.13,1725.28 543.24,1727.21 549.35,1729.09 555.46,1730.92 561.58,1732.71 567.69,1734.46 573.80,1736.16 579.91,1737.81 586.02,1739.42 592.13,1740.99 598.24,1742.51 604.36,1743.98 610.47,1745.41 616.58,1746.80 622.69,1748.14 628.80,1749.43" fill="none" stroke="#1b5e4a" stroke-width="2.10" stroke-dasharray="29.36 8.5"/>
<polyline points="139.90,1532.25 146.01,1538.15 152.12,1543.96 158.23,1549.70 164.34,1555.36 170.46,1560.94 176.57,1566.44 182.68,1571.87 188.79,1577.21 194.90,1582.48 201.01,1587.68 207.12,1592.79 213.24,1597.82 219.35,1602.78 225.46,1607.66 231.57,1612.46 237.68,1617.19 243.79,1621.83 249.90,1626.40 256.01,1630.89 262.12,1635.30 268.24,1639.63 274.35,1643.89 280.46,1648.07 286.57,1652.17 292.68,1656.19 298.79,1660.13 304.90,1664.00 311.01,1667.79 317.13,1671.50 323.24,1675.13 329.35,1678.68 335.46,1682.16 341.57,1685.56 347.68,1688.88 353.79,1692.12 359.90,1695.29 366.02,1698.37 372.13,1701.38 378.24,1704.31 384.35,1707.16 390.46,1709.94 396.57,1712.63 402.68,1715.25 408.79,1717.79 414.91,1720.26 421.02,1722.64 427.13,1724.95 433.24,1727.18 439.35,1729.33 445.46,1731.40 451.57,1733.40 457.68,1735.31 463.80,1737.15 469.91,1738.91 476.02,1740.60 482.13,1742.20 488.24,1743.73 494.35,1745.18 500.46,1746.55 506.58,1747.84 512.69,1749.06 518.80,1750.20 524.91,1751.26 531.02,1752.24 537.13,1753.14 543.24,1753.97 549.35,1754.71 555.46,1755.38 561.58,1755.98 567.69,1756.49 573.80,1756.93 579.91,1757.28 586.02,1757.56 592.13,1757.76 598.24,1757.89 604.36,1757.93 610.47,1757.90 616.58,1757.79 622.69,1757.61 628.80,1757.34" fill="none" stroke="#2244a0" stroke-width="2.10"/>
</g>
<circle cx="238.90" cy="1498.30" r="2.70" fill="#2244a0"/>
<circle cx="256.90" cy="1495.90" r="2.70" fill="#2244a0"/>
<circle cx="271.50" cy="1504.70" r="2.70" fill="#2244a0"/>
<circle cx="259.00" cy="1520.80" r="2.70" fill="#2244a0"/>
<circle cx="301.10" cy="1547.30" r="2.70" fill="#2244a0"/>
<circle cx="245.50" cy="1568.10" r="2.70" fill="#2244a0"/>
<circle cx="228.50" cy="1578.50" r="2.70" fill="#2244a0"/>
<circle cx="287.10" cy="1578.00" r="2.70" fill="#2244a0"/>
<circle cx="252.40" cy="1586.30" r="2.70" fill="#2244a0"/>
<circle cx="269.90" cy="1587.70" r="2.70" fill="#2244a0"/>
<circle cx="246.20" cy="1593.10" r="2.70" fill="#2244a0"/>
<circle cx="255.00" cy="1599.30" r="2.70" fill="#2244a0"/>
<circle cx="258.80" cy="1597.60" r="2.70" fill="#2244a0"/>
<circle cx="269.90" cy="1608.80" r="2.70" fill="#2244a0"/>
<circle cx="170.50" cy="1613.50" r="2.70" fill="#2244a0"/>
<circle cx="170.50" cy="1632.90" r="2.70" fill="#2244a0"/>
<circle cx="228.50" cy="1617.30" r="2.70" fill="#2244a0"/>
<circle cx="244.80" cy="1626.70" r="2.70" fill="#2244a0"/>
<circle cx="262.10" cy="1627.20" r="2.70" fill="#2244a0"/>
<circle cx="288.10" cy="1633.60" r="2.70" fill="#2244a0"/>
<circle cx="214.00" cy="1650.90" r="2.70" fill="#2244a0"/>
<circle cx="228.20" cy="1649.20" r="2.70" fill="#2244a0"/>
<circle cx="265.60" cy="1663.90" r="2.70" fill="#2244a0"/>
<circle cx="250.20" cy="1714.50" r="2.70" fill="#2244a0"/>
<circle cx="286.40" cy="1699.80" r="2.70" fill="#2244a0"/>
<circle cx="293.50" cy="1694.40" r="2.70" fill="#2244a0"/>
<circle cx="296.40" cy="1699.40" r="2.70" fill="#2244a0"/>
<circle cx="294.20" cy="1705.00" r="2.70" fill="#2244a0"/>
<circle cx="294.70" cy="1714.70" r="2.70" fill="#2244a0"/>
<circle cx="286.40" cy="1724.90" r="2.70" fill="#2244a0"/>
<circle cx="286.40" cy="1739.60" r="2.70" fill="#2244a0"/>
<circle cx="281.20" cy="1741.20" r="2.70" fill="#2244a0"/>
<circle cx="342.90" cy="1540.40" r="2.70" fill="#2244a0"/>
<circle cx="390.20" cy="1562.60" r="2.70" fill="#2244a0"/>
<circle cx="344.60" cy="1578.30" r="2.70" fill="#2244a0"/>
<circle cx="335.70" cy="1597.20" r="2.70" fill="#2244a0"/>
<circle cx="335.70" cy="1605.40" r="2.70" fill="#2244a0"/>
<circle cx="341.30" cy="1597.90" r="2.70" fill="#2244a0"/>
<circle cx="302.90" cy="1621.20" r="2.70" fill="#2244a0"/>
<circle cx="340.40" cy="1628.90" r="2.70" fill="#2244a0"/>
<circle cx="335.30" cy="1634.60" r="2.70" fill="#2244a0"/>
<circle cx="317.70" cy="1640.30" r="2.70" fill="#2244a0"/>
<circle cx="369.40" cy="1645.90" r="2.70" fill="#2244a0"/>
<circle cx="359.30" cy="1655.00" r="2.70" fill="#2244a0"/>
<circle cx="352.40" cy="1669.30" r="2.70" fill="#2244a0"/>
<circle cx="355.90" cy="1676.20" r="2.70" fill="#2244a0"/>
<circle cx="335.70" cy="1669.30" r="2.70" fill="#2244a0"/>
<circle cx="441.30" cy="1635.00" r="2.70" fill="#2244a0"/>
<circle cx="419.90" cy="1638.70" r="2.70" fill="#2244a0"/>
<circle cx="388.30" cy="1654.30" r="2.70" fill="#2244a0"/>
<circle cx="419.20" cy="1663.60" r="2.70" fill="#2244a0"/>
<circle cx="308.80" cy="1685.40" r="2.70" fill="#2244a0"/>
<circle cx="368.50" cy="1683.30" r="2.70" fill="#2244a0"/>
<circle cx="322.70" cy="1693.40" r="2.70" fill="#2244a0"/>
<circle cx="336.00" cy="1689.60" r="2.70" fill="#2244a0"/>
<circle cx="336.60" cy="1693.00" r="2.70" fill="#2244a0"/>
<circle cx="351.80" cy="1692.70" r="2.70" fill="#2244a0"/>
<circle cx="347.30" cy="1695.50" r="2.70" fill="#2244a0"/>
<circle cx="356.80" cy="1699.70" r="2.70" fill="#2244a0"/>
<circle cx="352.10" cy="1703.10" r="2.70" fill="#2244a0"/>
<circle cx="336.00" cy="1708.10" r="2.70" fill="#2244a0"/>
<circle cx="344.60" cy="1707.40" r="2.70" fill="#2244a0"/>
<circle cx="336.00" cy="1715.40" r="2.70" fill="#2244a0"/>
<circle cx="336.60" cy="1718.00" r="2.70" fill="#2244a0"/>
<circle cx="341.70" cy="1719.90" r="2.70" fill="#2244a0"/>
<circle cx="353.00" cy="1723.00" r="2.70" fill="#2244a0"/>
<circle cx="354.90" cy="1723.60" r="2.70" fill="#2244a0"/>
<circle cx="359.30" cy="1724.90" r="2.70" fill="#2244a0"/>
<circle cx="365.60" cy="1726.50" r="2.70" fill="#2244a0"/>
<circle cx="370.00" cy="1727.80" r="2.70" fill="#2244a0"/>
<circle cx="353.00" cy="1730.60" r="2.70" fill="#2244a0"/>
<circle cx="352.40" cy="1736.90" r="2.70" fill="#2244a0"/>
<circle cx="306.30" cy="1730.30" r="2.70" fill="#2244a0"/>
<circle cx="325.90" cy="1735.40" r="2.70" fill="#2244a0"/>
<circle cx="370.70" cy="1738.20" r="2.70" fill="#2244a0"/>
<circle cx="399.00" cy="1683.90" r="2.70" fill="#2244a0"/>
<circle cx="433.70" cy="1695.90" r="2.70" fill="#2244a0"/>
<circle cx="434.40" cy="1699.70" r="2.70" fill="#2244a0"/>
<circle cx="433.70" cy="1703.50" r="2.70" fill="#2244a0"/>
<circle cx="434.10" cy="1706.60" r="2.70" fill="#2244a0"/>
<circle cx="445.80" cy="1706.40" r="2.70" fill="#2244a0"/>
<circle cx="368.80" cy="1705.30" r="2.70" fill="#2244a0"/>
<circle cx="373.20" cy="1707.20" r="2.70" fill="#2244a0"/>
<circle cx="374.20" cy="1710.40" r="2.70" fill="#2244a0"/>
<circle cx="375.70" cy="1719.20" r="2.70" fill="#2244a0"/>
<circle cx="375.70" cy="1721.10" r="2.70" fill="#2244a0"/>
<circle cx="385.80" cy="1731.80" r="2.70" fill="#2244a0"/>
<circle cx="395.30" cy="1730.80" r="2.70" fill="#2244a0"/>
<circle cx="412.90" cy="1734.40" r="2.70" fill="#2244a0"/>
<circle cx="434.40" cy="1725.50" r="2.70" fill="#2244a0"/>
<circle cx="434.40" cy="1735.60" r="2.70" fill="#2244a0"/>
<circle cx="313.30" cy="1745.80" r="2.70" fill="#2244a0"/>
<circle cx="335.70" cy="1750.50" r="2.70" fill="#2244a0"/>
<circle cx="335.70" cy="1759.10" r="2.70" fill="#2244a0"/>
<circle cx="351.80" cy="1753.80" r="2.70" fill="#2244a0"/>
<circle cx="351.80" cy="1766.00" r="2.70" fill="#2244a0"/>
<circle cx="360.60" cy="1755.60" r="2.70" fill="#2244a0"/>
<circle cx="365.40" cy="1756.30" r="2.70" fill="#2244a0"/>
<circle cx="372.30" cy="1757.80" r="2.70" fill="#2244a0"/>
<circle cx="385.80" cy="1749.20" r="2.70" fill="#2244a0"/>
<circle cx="386.40" cy="1760.30" r="2.70" fill="#2244a0"/>
<circle cx="402.40" cy="1752.80" r="2.70" fill="#2244a0"/>
<circle cx="407.20" cy="1753.80" r="2.70" fill="#2244a0"/>
<circle cx="401.30" cy="1762.90" r="2.70" fill="#2244a0"/>
<circle cx="434.40" cy="1740.20" r="2.70" fill="#2244a0"/>
<circle cx="434.40" cy="1749.60" r="2.70" fill="#2244a0"/>
<circle cx="434.40" cy="1743.90" r="2.70" fill="#2244a0"/>
<circle cx="439.80" cy="1759.70" r="2.70" fill="#2244a0"/>
<circle cx="434.10" cy="1766.00" r="2.70" fill="#2244a0"/>
<circle cx="434.70" cy="1768.50" r="2.70" fill="#2244a0"/>
<circle cx="470.90" cy="1716.20" r="2.70" fill="#2244a0"/>
<circle cx="483.30" cy="1716.20" r="2.70" fill="#2244a0"/>
<circle cx="490.90" cy="1716.60" r="2.70" fill="#2244a0"/>
<circle cx="450.70" cy="1729.60" r="2.70" fill="#2244a0"/>
<circle cx="451.00" cy="1731.50" r="2.70" fill="#2244a0"/>
<circle cx="457.10" cy="1732.50" r="2.70" fill="#2244a0"/>
<circle cx="467.10" cy="1729.60" r="2.70" fill="#2244a0"/>
<circle cx="484.20" cy="1738.40" r="2.70" fill="#2244a0"/>
<circle cx="467.10" cy="1747.60" r="2.70" fill="#2244a0"/>
<circle cx="483.60" cy="1753.90" r="2.70" fill="#2244a0"/>
<circle cx="460.00" cy="1771.80" r="2.70" fill="#2244a0"/>
<circle cx="465.90" cy="1777.50" r="2.70" fill="#2244a0"/>
<circle cx="468.10" cy="1778.00" r="2.70" fill="#2244a0"/>
<circle cx="583.60" cy="1769.00" r="2.70" fill="#2244a0"/>
<circle cx="385.10" cy="1668.20" r="2.70" fill="#2244a0"/>
<circle cx="434.60" cy="1659.60" r="2.70" fill="#2244a0"/>
<circle cx="276.70" cy="1576.10" r="2.70" fill="#2244a0"/>
<circle cx="434.10" cy="1701.60" r="2.70" fill="#2244a0"/>
<path d="M189.40 1516.70L189.40 1511.60M189.40 1516.70L184.55 1515.12M189.40 1516.70L186.40 1520.83M189.40 1516.70L192.40 1520.83M189.40 1516.70L194.25 1515.12" stroke="#1b5e4a" stroke-width="1.80" fill="none"/>
<path d="M199.80 1523.10L199.80 1518.00M199.80 1523.10L194.95 1521.52M199.80 1523.10L196.80 1527.23M199.80 1523.10L202.80 1527.23M199.80 1523.10L204.65 1521.52" stroke="#1b5e4a" stroke-width="1.80" fill="none"/>
<path d="M227.30 1490.00L227.30 1484.90M227.30 1490.00L222.45 1488.42M227.30 1490.00L224.30 1494.13M227.30 1490.00L230.30 1494.13M227.30 1490.00L232.15 1488.42" stroke="#1b5e4a" stroke-width="1.80" fill="none"/>
<path d="M272.20 1520.00L272.20 1514.90M272.20 1520.00L267.35 1518.42M272.20 1520.00L269.20 1524.13M272.20 1520.00L275.20 1524.13M272.20 1520.00L277.05 1518.42" stroke="#1b5e4a" stroke-width="1.80" fill="none"/>
<path d="M260.20 1535.40L260.20 1530.30M260.20 1535.40L255.35 1533.82M260.20 1535.40L257.20 1539.53M260.20 1535.40L263.20 1539.53M260.20 1535.40L265.05 1533.82" stroke="#1b5e4a" stroke-width="1.80" fill="none"/>
<path d="M272.20 1536.10L272.20 1531.00M272.20 1536.10L267.35 1534.52M272.20 1536.10L269.20 1540.23M272.20 1536.10L275.20 1540.23M272.20 1536.10L277.05 1534.52" stroke="#1b5e4a" stroke-width="1.80" fill="none"/>
<path d="M257.80 1546.10L257.80 1541.00M257.80 1546.10L252.95 1544.52M257.80 1546.10L254.80 1550.23M257.80 1546.10L260.80 1550.23M257.80 1546.10L262.65 1544.52" stroke="#1b5e4a" stroke-width="1.80" fill="none"/>
<path d="M286.40 1543.70L286.40 1538.60M286.40 1543.70L281.55 1542.12M286.40 1543.70L283.40 1547.83M286.40 1543.70L289.40 1547.83M286.40 1543.70L291.25 1542.12" stroke="#1b5e4a" stroke-width="1.80" fill="none"/>
<path d="M298.50 1530.00L298.50 1524.90M298.50 1530.00L293.65 1528.42M298.50 1530.00L295.50 1534.13M298.50 1530.00L301.50 1534.13M298.50 1530.00L303.35 1528.42" stroke="#1b5e4a" stroke-width="1.80" fill="none"/>
<path d="M296.40 1543.70L296.40 1538.60M296.40 1543.70L291.55 1542.12M296.40 1543.70L293.40 1547.83M296.40 1543.70L299.40 1547.83M296.40 1543.70L301.25 1542.12" stroke="#1b5e4a" stroke-width="1.80" fill="none"/>
<path d="M276.70 1577.30L276.70 1572.20M276.70 1577.30L271.85 1575.72M276.70 1577.30L273.70 1581.43M276.70 1577.30L279.70 1581.43M276.70 1577.30L281.55 1575.72" stroke="#1b5e4a" stroke-width="1.80" fill="none"/>
<path d="M275.10 1601.70L275.10 1596.60M275.10 1601.70L270.25 1600.12M275.10 1601.70L272.10 1605.83M275.10 1601.70L278.10 1605.83M275.10 1601.70L279.95 1600.12" stroke="#1b5e4a" stroke-width="1.80" fill="none"/>
<path d="M215.90 1607.30L215.90 1602.20M215.90 1607.30L211.05 1605.72M215.90 1607.30L212.90 1611.43M215.90 1607.30L218.90 1611.43M215.90 1607.30L220.75 1605.72" stroke="#1b5e4a" stroke-width="1.80" fill="none"/>
<path d="M213.80 1615.60L213.80 1610.50M213.80 1615.60L208.95 1614.02M213.80 1615.60L210.80 1619.73M213.80 1615.60L216.80 1619.73M213.80 1615.60L218.65 1614.02" stroke="#1b5e4a" stroke-width="1.80" fill="none"/>
<path d="M235.80 1613.00L235.80 1607.90M235.80 1613.00L230.95 1611.42M235.80 1613.00L232.80 1617.13M235.80 1613.00L238.80 1617.13M235.80 1613.00L240.65 1611.42" stroke="#1b5e4a" stroke-width="1.80" fill="none"/>
<path d="M250.20 1643.30L250.20 1638.20M250.20 1643.30L245.35 1641.72M250.20 1643.30L247.20 1647.43M250.20 1643.30L253.20 1647.43M250.20 1643.30L255.05 1641.72" stroke="#1b5e4a" stroke-width="1.80" fill="none"/>
<path d="M255.90 1640.70L255.90 1635.60M255.90 1640.70L251.05 1639.12M255.90 1640.70L252.90 1644.83M255.90 1640.70L258.90 1644.83M255.90 1640.70L260.75 1639.12" stroke="#1b5e4a" stroke-width="1.80" fill="none"/>
<path d="M286.20 1652.80L286.20 1647.70M286.20 1652.80L281.35 1651.22M286.20 1652.80L283.20 1656.93M286.20 1652.80L289.20 1656.93M286.20 1652.80L291.05 1651.22" stroke="#1b5e4a" stroke-width="1.80" fill="none"/>
<path d="M237.20 1698.20L237.20 1693.10M237.20 1698.20L232.35 1696.62M237.20 1698.20L234.20 1702.33M237.20 1698.20L240.20 1702.33M237.20 1698.20L242.05 1696.62" stroke="#1b5e4a" stroke-width="1.80" fill="none"/>
<path d="M265.40 1707.40L265.40 1702.30M265.40 1707.40L260.55 1705.82M265.40 1707.40L262.40 1711.53M265.40 1707.40L268.40 1711.53M265.40 1707.40L270.25 1705.82" stroke="#1b5e4a" stroke-width="1.80" fill="none"/>
<path d="M336.30 1539.00L336.30 1533.90M336.30 1539.00L331.45 1537.42M336.30 1539.00L333.30 1543.13M336.30 1539.00L339.30 1543.13M336.30 1539.00L341.15 1537.42" stroke="#1b5e4a" stroke-width="1.80" fill="none"/>
<path d="M351.70 1527.60L351.70 1522.50M351.70 1527.60L346.85 1526.02M351.70 1527.60L348.70 1531.73M351.70 1527.60L354.70 1531.73M351.70 1527.60L356.55 1526.02" stroke="#1b5e4a" stroke-width="1.80" fill="none"/>
<path d="M309.20 1573.90L309.20 1568.80M309.20 1573.90L304.35 1572.32M309.20 1573.90L306.20 1578.03M309.20 1573.90L312.20 1578.03M309.20 1573.90L314.05 1572.32" stroke="#1b5e4a" stroke-width="1.80" fill="none"/>
<path d="M335.90 1569.50L335.90 1564.40M335.90 1569.50L331.05 1567.92M335.90 1569.50L332.90 1573.63M335.90 1569.50L338.90 1573.63M335.90 1569.50L340.75 1567.92" stroke="#1b5e4a" stroke-width="1.80" fill="none"/>
<path d="M352.40 1573.60L352.40 1568.50M352.40 1573.60L347.55 1572.02M352.40 1573.60L349.40 1577.73M352.40 1573.60L355.40 1577.73M352.40 1573.60L357.25 1572.02" stroke="#1b5e4a" stroke-width="1.80" fill="none"/>
<path d="M374.20 1584.00L374.20 1578.90M374.20 1584.00L369.35 1582.42M374.20 1584.00L371.20 1588.13M374.20 1584.00L377.20 1588.13M374.20 1584.00L379.05 1582.42" stroke="#1b5e4a" stroke-width="1.80" fill="none"/>
<path d="M342.30 1599.80L342.30 1594.70M342.30 1599.80L337.45 1598.22M342.30 1599.80L339.30 1603.93M342.30 1599.80L345.30 1603.93M342.30 1599.80L347.15 1598.22" stroke="#1b5e4a" stroke-width="1.80" fill="none"/>
<path d="M313.30 1605.40L313.30 1600.30M313.30 1605.40L308.45 1603.82M313.30 1605.40L310.30 1609.53M313.30 1605.40L316.30 1609.53M313.30 1605.40L318.15 1603.82" stroke="#1b5e4a" stroke-width="1.80" fill="none"/>
<path d="M308.80 1608.60L308.80 1603.50M308.80 1608.60L303.95 1607.02M308.80 1608.60L305.80 1612.73M308.80 1608.60L311.80 1612.73M308.80 1608.60L313.65 1607.02" stroke="#1b5e4a" stroke-width="1.80" fill="none"/>
<path d="M317.30 1615.80L317.30 1610.70M317.30 1615.80L312.45 1614.22M317.30 1615.80L314.30 1619.93M317.30 1615.80L320.30 1619.93M317.30 1615.80L322.15 1614.22" stroke="#1b5e4a" stroke-width="1.80" fill="none"/>
<path d="M324.40 1621.80L324.40 1616.70M324.40 1621.80L319.55 1620.22M324.40 1621.80L321.40 1625.93M324.40 1621.80L327.40 1625.93M324.40 1621.80L329.25 1620.22" stroke="#1b5e4a" stroke-width="1.80" fill="none"/>
<path d="M335.70 1625.60L335.70 1620.50M335.70 1625.60L330.85 1624.02M335.70 1625.60L332.70 1629.73M335.70 1625.60L338.70 1629.73M335.70 1625.60L340.55 1624.02" stroke="#1b5e4a" stroke-width="1.80" fill="none"/>
<path d="M368.50 1609.20L368.50 1604.10M368.50 1609.20L363.65 1607.62M368.50 1609.20L365.50 1613.33M368.50 1609.20L371.50 1613.33M368.50 1609.20L373.35 1607.62" stroke="#1b5e4a" stroke-width="1.80" fill="none"/>
<path d="M314.50 1646.30L314.50 1641.20M314.50 1646.30L309.65 1644.72M314.50 1646.30L311.50 1650.43M314.50 1646.30L317.50 1650.43M314.50 1646.30L319.35 1644.72" stroke="#1b5e4a" stroke-width="1.80" fill="none"/>
<path d="M336.00 1648.20L336.00 1643.10M336.00 1648.20L331.15 1646.62M336.00 1648.20L333.00 1652.33M336.00 1648.20L339.00 1652.33M336.00 1648.20L340.85 1646.62" stroke="#1b5e4a" stroke-width="1.80" fill="none"/>
<path d="M354.90 1651.90L354.90 1646.80M354.90 1651.90L350.05 1650.32M354.90 1651.90L351.90 1656.03M354.90 1651.90L357.90 1656.03M354.90 1651.90L359.75 1650.32" stroke="#1b5e4a" stroke-width="1.80" fill="none"/>
<path d="M351.80 1659.80L351.80 1654.70M351.80 1659.80L346.95 1658.22M351.80 1659.80L348.80 1663.93M351.80 1659.80L354.80 1663.93M351.80 1659.80L356.65 1658.22" stroke="#1b5e4a" stroke-width="1.80" fill="none"/>
<path d="M352.00 1666.80L352.00 1661.70M352.00 1666.80L347.15 1665.22M352.00 1666.80L349.00 1670.93M352.00 1666.80L355.00 1670.93M352.00 1666.80L356.85 1665.22" stroke="#1b5e4a" stroke-width="1.80" fill="none"/>
<path d="M370.70 1668.40L370.70 1663.30M370.70 1668.40L365.85 1666.82M370.70 1668.40L367.70 1672.53M370.70 1668.40L373.70 1672.53M370.70 1668.40L375.55 1666.82" stroke="#1b5e4a" stroke-width="1.80" fill="none"/>
<path d="M434.40 1592.20L434.40 1587.10M434.40 1592.20L429.55 1590.62M434.40 1592.20L431.40 1596.33M434.40 1592.20L437.40 1596.33M434.40 1592.20L439.25 1590.62" stroke="#1b5e4a" stroke-width="1.80" fill="none"/>
<path d="M434.40 1601.70L434.40 1596.60M434.40 1601.70L429.55 1600.12M434.40 1601.70L431.40 1605.83M434.40 1601.70L437.40 1605.83M434.40 1601.70L439.25 1600.12" stroke="#1b5e4a" stroke-width="1.80" fill="none"/>
<path d="M434.40 1623.70L434.40 1618.60M434.40 1623.70L429.55 1622.12M434.40 1623.70L431.40 1627.83M434.40 1623.70L437.40 1627.83M434.40 1623.70L439.25 1622.12" stroke="#1b5e4a" stroke-width="1.80" fill="none"/>
<path d="M433.70 1636.50L433.70 1631.40M433.70 1636.50L428.85 1634.92M433.70 1636.50L430.70 1640.63M433.70 1636.50L436.70 1640.63M433.70 1636.50L438.55 1634.92" stroke="#1b5e4a" stroke-width="1.80" fill="none"/>
<path d="M385.80 1655.40L385.80 1650.30M385.80 1655.40L380.95 1653.82M385.80 1655.40L382.80 1659.53M385.80 1655.40L388.80 1659.53M385.80 1655.40L390.65 1653.82" stroke="#1b5e4a" stroke-width="1.80" fill="none"/>
<path d="M396.50 1658.90L396.50 1653.80M396.50 1658.90L391.65 1657.32M396.50 1658.90L393.50 1663.03M396.50 1658.90L399.50 1663.03M396.50 1658.90L401.35 1657.32" stroke="#1b5e4a" stroke-width="1.80" fill="none"/>
<path d="M384.80 1662.30L384.80 1657.20M384.80 1662.30L379.95 1660.72M384.80 1662.30L381.80 1666.43M384.80 1662.30L387.80 1666.43M384.80 1662.30L389.65 1660.72" stroke="#1b5e4a" stroke-width="1.80" fill="none"/>
<path d="M384.80 1666.10L384.80 1661.00M384.80 1666.10L379.95 1664.52M384.80 1666.10L381.80 1670.23M384.80 1666.10L387.80 1670.23M384.80 1666.10L389.65 1664.52" stroke="#1b5e4a" stroke-width="1.80" fill="none"/>
<path d="M391.50 1670.50L391.50 1665.40M391.50 1670.50L386.65 1668.92M391.50 1670.50L388.50 1674.63M391.50 1670.50L394.50 1674.63M391.50 1670.50L396.35 1668.92" stroke="#1b5e4a" stroke-width="1.80" fill="none"/>
<path d="M401.60 1678.10L401.60 1673.00M401.60 1678.10L396.75 1676.52M401.60 1678.10L398.60 1682.23M401.60 1678.10L404.60 1682.23M401.60 1678.10L406.45 1676.52" stroke="#1b5e4a" stroke-width="1.80" fill="none"/>
<path d="M434.40 1657.90L434.40 1652.80M434.40 1657.90L429.55 1656.32M434.40 1657.90L431.40 1662.03M434.40 1657.90L437.40 1662.03M434.40 1657.90L439.25 1656.32" stroke="#1b5e4a" stroke-width="1.80" fill="none"/>
<path d="M434.40 1669.90L434.40 1664.80M434.40 1669.90L429.55 1668.32M434.40 1669.90L431.40 1674.03M434.40 1669.90L437.40 1674.03M434.40 1669.90L439.25 1668.32" stroke="#1b5e4a" stroke-width="1.80" fill="none"/>
<path d="M434.40 1680.60L434.40 1675.50M434.40 1680.60L429.55 1679.02M434.40 1680.60L431.40 1684.73M434.40 1680.60L437.40 1684.73M434.40 1680.60L439.25 1679.02" stroke="#1b5e4a" stroke-width="1.80" fill="none"/>
<path d="M355.20 1691.20L355.20 1686.10M355.20 1691.20L350.35 1689.62M355.20 1691.20L352.20 1695.33M355.20 1691.20L358.20 1695.33M355.20 1691.20L360.05 1689.62" stroke="#1b5e4a" stroke-width="1.80" fill="none"/>
<path d="M360.00 1710.40L360.00 1705.30M360.00 1710.40L355.15 1708.82M360.00 1710.40L357.00 1714.53M360.00 1710.40L363.00 1714.53M360.00 1710.40L364.85 1708.82" stroke="#1b5e4a" stroke-width="1.80" fill="none"/>
<path d="M335.70 1724.90L335.70 1719.80M335.70 1724.90L330.85 1723.32M335.70 1724.90L332.70 1729.03M335.70 1724.90L338.70 1729.03M335.70 1724.90L340.55 1723.32" stroke="#1b5e4a" stroke-width="1.80" fill="none"/>
<path d="M356.80 1733.10L356.80 1728.00M356.80 1733.10L351.95 1731.52M356.80 1733.10L353.80 1737.23M356.80 1733.10L359.80 1737.23M356.80 1733.10L361.65 1731.52" stroke="#1b5e4a" stroke-width="1.80" fill="none"/>
<path d="M385.50 1682.40L385.50 1677.30M385.50 1682.40L380.65 1680.82M385.50 1682.40L382.50 1686.53M385.50 1682.40L388.50 1686.53M385.50 1682.40L390.35 1680.82" stroke="#1b5e4a" stroke-width="1.80" fill="none"/>
<path d="M434.10 1690.80L434.10 1685.70M434.10 1690.80L429.25 1689.22M434.10 1690.80L431.10 1694.93M434.10 1690.80L437.10 1694.93M434.10 1690.80L438.95 1689.22" stroke="#1b5e4a" stroke-width="1.80" fill="none"/>
<path d="M441.90 1707.20L441.90 1702.10M441.90 1707.20L437.05 1705.62M441.90 1707.20L438.90 1711.33M441.90 1707.20L444.90 1711.33M441.90 1707.20L446.75 1705.62" stroke="#1b5e4a" stroke-width="1.80" fill="none"/>
<path d="M380.70 1693.40L380.70 1688.30M380.70 1693.40L375.85 1691.82M380.70 1693.40L377.70 1697.53M380.70 1693.40L383.70 1697.53M380.70 1693.40L385.55 1691.82" stroke="#1b5e4a" stroke-width="1.80" fill="none"/>
<path d="M389.60 1714.20L389.60 1709.10M389.60 1714.20L384.75 1712.62M389.60 1714.20L386.60 1718.33M389.60 1714.20L392.60 1718.33M389.60 1714.20L394.45 1712.62" stroke="#1b5e4a" stroke-width="1.80" fill="none"/>
<path d="M385.50 1726.20L385.50 1721.10M385.50 1726.20L380.65 1724.62M385.50 1726.20L382.50 1730.33M385.50 1726.20L388.50 1730.33M385.50 1726.20L390.35 1724.62" stroke="#1b5e4a" stroke-width="1.80" fill="none"/>
<path d="M400.30 1731.20L400.30 1726.10M400.30 1731.20L395.45 1729.62M400.30 1731.20L397.30 1735.33M400.30 1731.20L403.30 1735.33M400.30 1731.20L405.15 1729.62" stroke="#1b5e4a" stroke-width="1.80" fill="none"/>
<path d="M404.70 1731.80L404.70 1726.70M404.70 1731.80L399.85 1730.22M404.70 1731.80L401.70 1735.93M404.70 1731.80L407.70 1735.93M404.70 1731.80L409.55 1730.22" stroke="#1b5e4a" stroke-width="1.80" fill="none"/>
<path d="M364.10 1751.30L364.10 1746.20M364.10 1751.30L359.25 1749.72M364.10 1751.30L361.10 1755.43M364.10 1751.30L367.10 1755.43M364.10 1751.30L368.95 1749.72" stroke="#1b5e4a" stroke-width="1.80" fill="none"/>
<path d="M385.20 1737.90L385.20 1732.80M385.20 1737.90L380.35 1736.32M385.20 1737.90L382.20 1742.03M385.20 1737.90L388.20 1742.03M385.20 1737.90L390.05 1736.32" stroke="#1b5e4a" stroke-width="1.80" fill="none"/>
<path d="M384.80 1740.80L384.80 1735.70M384.80 1740.80L379.95 1739.22M384.80 1740.80L381.80 1744.93M384.80 1740.80L387.80 1744.93M384.80 1740.80L389.65 1739.22" stroke="#1b5e4a" stroke-width="1.80" fill="none"/>
<path d="M435.00 1751.50L435.00 1746.40M435.00 1751.50L430.15 1749.92M435.00 1751.50L432.00 1755.63M435.00 1751.50L438.00 1755.63M435.00 1751.50L439.85 1749.92" stroke="#1b5e4a" stroke-width="1.80" fill="none"/>
<path d="M443.80 1753.40L443.80 1748.30M443.80 1753.40L438.95 1751.82M443.80 1753.40L440.80 1757.53M443.80 1753.40L446.80 1757.53M443.80 1753.40L448.65 1751.82" stroke="#1b5e4a" stroke-width="1.80" fill="none"/>
<path d="M446.60 1556.40L446.60 1551.30M446.60 1556.40L441.75 1554.82M446.60 1556.40L443.60 1560.53M446.60 1556.40L449.60 1560.53M446.60 1556.40L451.45 1554.82" stroke="#1b5e4a" stroke-width="1.80" fill="none"/>
<path d="M450.70 1613.70L450.70 1608.60M450.70 1613.70L445.85 1612.12M450.70 1613.70L447.70 1617.83M450.70 1613.70L453.70 1617.83M450.70 1613.70L455.55 1612.12" stroke="#1b5e4a" stroke-width="1.80" fill="none"/>
<path d="M464.40 1615.80L464.40 1610.70M464.40 1615.80L459.55 1614.22M464.40 1615.80L461.40 1619.93M464.40 1615.80L467.40 1619.93M464.40 1615.80L469.25 1614.22" stroke="#1b5e4a" stroke-width="1.80" fill="none"/>
<path d="M480.80 1622.80L480.80 1617.70M480.80 1622.80L475.95 1621.22M480.80 1622.80L477.80 1626.93M480.80 1622.80L483.80 1626.93M480.80 1622.80L485.65 1621.22" stroke="#1b5e4a" stroke-width="1.80" fill="none"/>
<path d="M483.60 1655.60L483.60 1650.50M483.60 1655.60L478.75 1654.02M483.60 1655.60L480.60 1659.73M483.60 1655.60L486.60 1659.73M483.60 1655.60L488.45 1654.02" stroke="#1b5e4a" stroke-width="1.80" fill="none"/>
<path d="M461.50 1681.30L461.50 1676.20M461.50 1681.30L456.65 1679.72M461.50 1681.30L458.50 1685.43M461.50 1681.30L464.50 1685.43M461.50 1681.30L466.35 1679.72" stroke="#1b5e4a" stroke-width="1.80" fill="none"/>
<path d="M466.90 1680.30L466.90 1675.20M466.90 1680.30L462.05 1678.72M466.90 1680.30L463.90 1684.43M466.90 1680.30L469.90 1684.43M466.90 1680.30L471.75 1678.72" stroke="#1b5e4a" stroke-width="1.80" fill="none"/>
<path d="M450.10 1714.70L450.10 1709.60M450.10 1714.70L445.25 1713.12M450.10 1714.70L447.10 1718.83M450.10 1714.70L453.10 1718.83M450.10 1714.70L454.95 1713.12" stroke="#1b5e4a" stroke-width="1.80" fill="none"/>
<path d="M467.80 1704.00L467.80 1698.90M467.80 1704.00L462.95 1702.42M467.80 1704.00L464.80 1708.13M467.80 1704.00L470.80 1708.13M467.80 1704.00L472.65 1702.42" stroke="#1b5e4a" stroke-width="1.80" fill="none"/>
<path d="M467.10 1707.40L467.10 1702.30M467.10 1707.40L462.25 1705.82M467.10 1707.40L464.10 1711.53M467.10 1707.40L470.10 1711.53M467.10 1707.40L471.95 1705.82" stroke="#1b5e4a" stroke-width="1.80" fill="none"/>
<path d="M474.10 1703.60L474.10 1698.50M474.10 1703.60L469.25 1702.02M474.10 1703.60L471.10 1707.73M474.10 1703.60L477.10 1707.73M474.10 1703.60L478.95 1702.02" stroke="#1b5e4a" stroke-width="1.80" fill="none"/>
<path d="M483.60 1728.70L483.60 1723.60M483.60 1728.70L478.75 1727.12M483.60 1728.70L480.60 1732.83M483.60 1728.70L486.60 1732.83M483.60 1728.70L488.45 1727.12" stroke="#1b5e4a" stroke-width="1.80" fill="none"/>
<path d="M447.60 1751.70L447.60 1746.60M447.60 1751.70L442.75 1750.12M447.60 1751.70L444.60 1755.83M447.60 1751.70L450.60 1755.83M447.60 1751.70L452.45 1750.12" stroke="#1b5e4a" stroke-width="1.80" fill="none"/>
<path d="M450.70 1754.80L450.70 1749.70M450.70 1754.80L445.85 1753.22M450.70 1754.80L447.70 1758.93M450.70 1754.80L453.70 1758.93M450.70 1754.80L455.55 1753.22" stroke="#1b5e4a" stroke-width="1.80" fill="none"/>
<path d="M460.60 1757.00L460.60 1751.90M460.60 1757.00L455.75 1755.42M460.60 1757.00L457.60 1761.13M460.60 1757.00L463.60 1761.13M460.60 1757.00L465.45 1755.42" stroke="#1b5e4a" stroke-width="1.80" fill="none"/>
<path d="M481.30 1760.50L481.30 1755.40M481.30 1760.50L476.45 1758.92M481.30 1760.50L478.30 1764.63M481.30 1760.50L484.30 1764.63M481.30 1760.50L486.15 1758.92" stroke="#1b5e4a" stroke-width="1.80" fill="none"/>
<path d="M483.30 1768.10L483.30 1763.00M483.30 1768.10L478.45 1766.52M483.30 1768.10L480.30 1772.23M483.30 1768.10L486.30 1772.23M483.30 1768.10L488.15 1766.52" stroke="#1b5e4a" stroke-width="1.80" fill="none"/>
<path d="M532.70 1675.10L532.70 1670.00M532.70 1675.10L527.85 1673.52M532.70 1675.10L529.70 1679.23M532.70 1675.10L535.70 1679.23M532.70 1675.10L537.55 1673.52" stroke="#1b5e4a" stroke-width="1.80" fill="none"/>
<path d="M532.70 1676.30L532.70 1671.20M532.70 1676.30L527.85 1674.72M532.70 1676.30L529.70 1680.43M532.70 1676.30L535.70 1680.43M532.70 1676.30L537.55 1674.72" stroke="#1b5e4a" stroke-width="1.80" fill="none"/>
<path d="M581.70 1700.30L581.70 1695.20M581.70 1700.30L576.85 1698.72M581.70 1700.30L578.70 1704.43M581.70 1700.30L584.70 1704.43M581.70 1700.30L586.55 1698.72" stroke="#1b5e4a" stroke-width="1.80" fill="none"/>
<path d="M532.70 1741.90L532.70 1736.80M532.70 1741.90L527.85 1740.32M532.70 1741.90L529.70 1746.03M532.70 1741.90L535.70 1746.03M532.70 1741.90L537.55 1740.32" stroke="#1b5e4a" stroke-width="1.80" fill="none"/>
<path d="M568.10 1750.00L568.10 1744.90M568.10 1750.00L563.25 1748.42M568.10 1750.00L565.10 1754.13M568.10 1750.00L571.10 1754.13M568.10 1750.00L572.95 1748.42" stroke="#1b5e4a" stroke-width="1.80" fill="none"/>
<path d="M582.30 1775.20L582.30 1770.10M582.30 1775.20L577.45 1773.62M582.30 1775.20L579.30 1779.33M582.30 1775.20L585.30 1779.33M582.30 1775.20L587.15 1773.62" stroke="#1b5e4a" stroke-width="1.80" fill="none"/>
<rect x="158.80" y="1915.40" width="450.90" height="97.80" fill="none" stroke="#1a1a1a" stroke-width="1.80"/>
<path d="M181.50 1945.40L181.50 1937.80M181.50 1945.40L174.27 1943.05M181.50 1945.40L177.03 1951.55M181.50 1945.40L185.97 1951.55M181.50 1945.40L188.73 1943.05" stroke="#1b5e4a" stroke-width="1.65" fill="none"/>
<circle cx="183.80" cy="1987.60" r="5.40" fill="#2244a0"/>
<text x="198.00" y="1953.00" font-size="28.3" fill="#231f20" class="lt" textLength="395.7" lengthAdjust="spacingAndGlyphs">Not obese(<tspan fill="#1b5e4a">--</tspan> quadratic R<tspan dy="-12" font-size="20">2</tspan><tspan dy="12">=0.40)</tspan></text>
<text x="199.00" y="1994.90" font-size="28.3" fill="#231f20" class="lt" textLength="342.3" lengthAdjust="spacingAndGlyphs">Obese(<tspan fill="#2244a0">–</tspan> quadratic R<tspan dy="-12" font-size="20">2</tspan><tspan dy="12">=0.38)</tspan></text>
<g transform="translate(1.30 2055.10) scale(0.855 1)"><text x="0.00" y="0.00" font-size="38.00" font-weight="normal" text-anchor="start" fill="#111" class="lb">C</text></g>
</svg>
</body></html>
